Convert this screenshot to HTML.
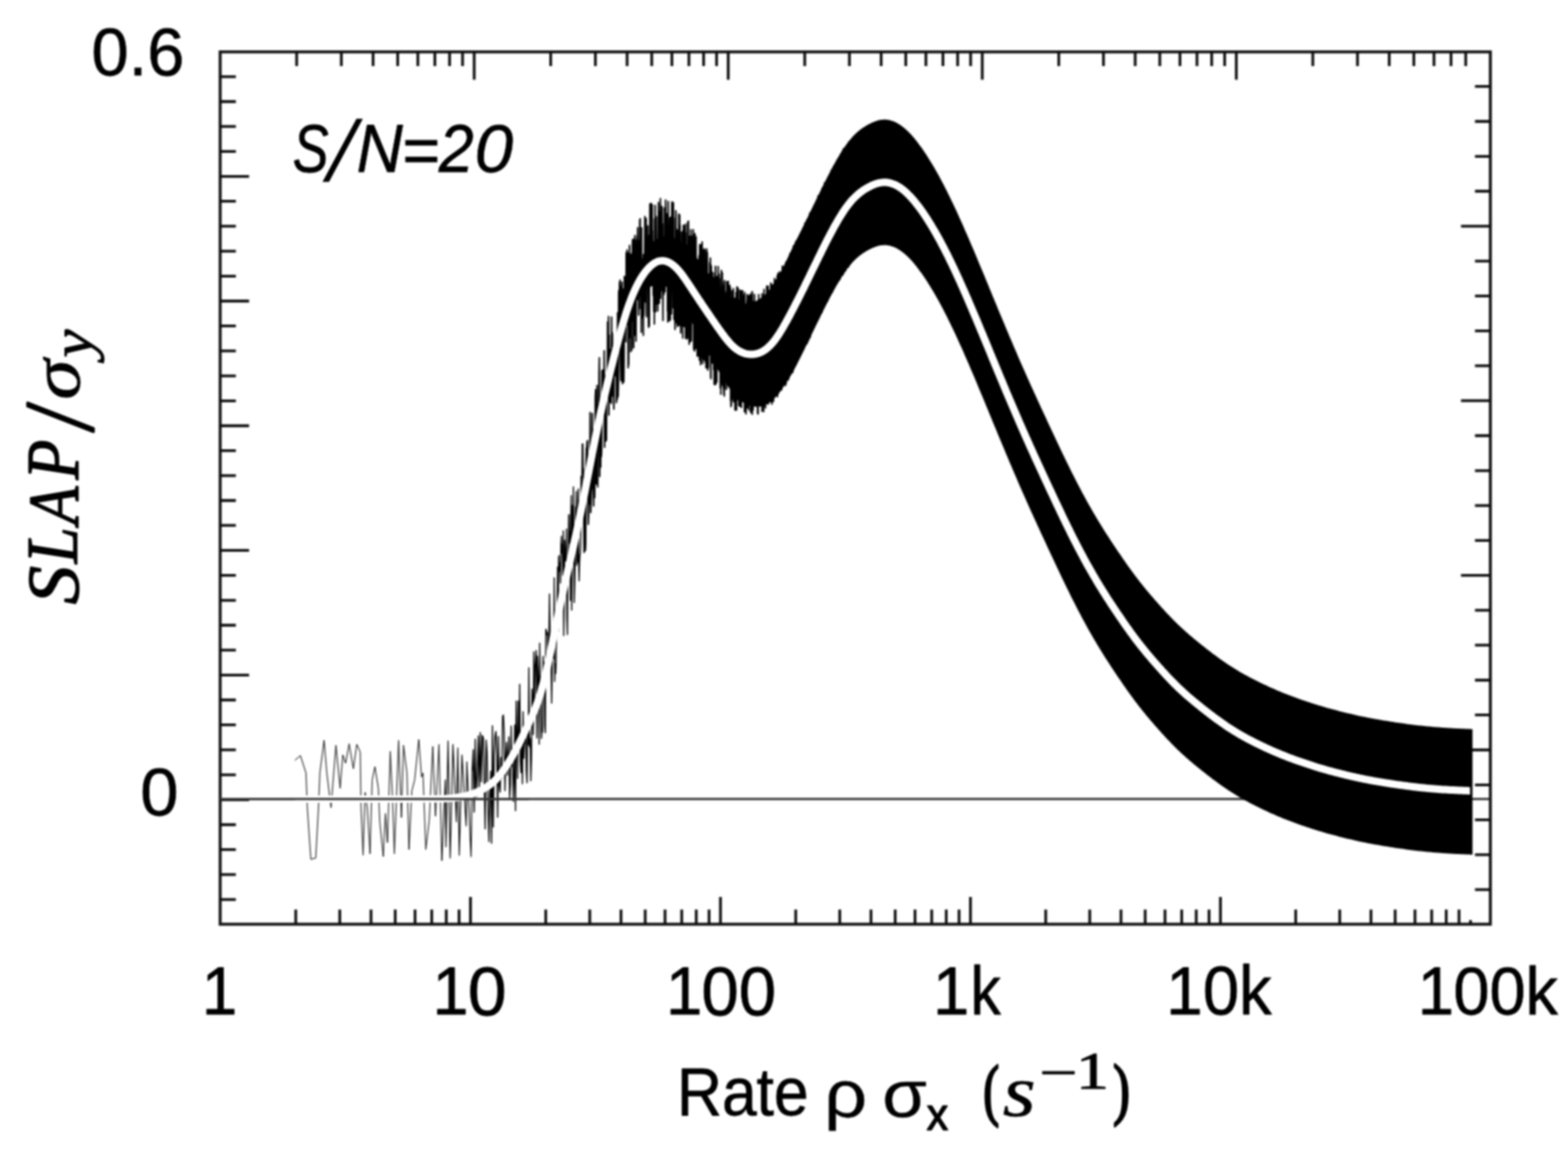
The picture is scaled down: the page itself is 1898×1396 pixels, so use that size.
<!DOCTYPE html>
<html lang="en"><head><meta charset="utf-8"><title>SLAP vs Rate, S/N=20</title>
<style>html,body{margin:0;padding:0;background:#fff;}body{width:1898px;height:1396px;overflow:hidden;}svg{display:block;}text{fill:#000;}</style>
</head><body>
<svg width="1898" height="1396" viewBox="0 0 1898 1396">
<defs><filter id="soft" x="-2%" y="-2%" width="104%" height="104%" color-interpolation-filters="sRGB"><feGaussianBlur stdDeviation="1.10"/></filter><filter id="soft2" x="-2%" y="-10%" width="104%" height="120%" color-interpolation-filters="sRGB"><feGaussianBlur stdDeviation="0.5"/></filter></defs>
<rect x="0" y="0" width="1898" height="1396" fill="#fff"/>
<g filter="url(#soft)">
<line x1="266.5" y1="967.4" x2="1804.0" y2="967.4" stroke="#3a3a3a" stroke-width="2.6"/>
<rect x="266.5" y="62.8" width="1537.5" height="1056.2" fill="none" stroke="#141414" stroke-width="3.6"/>
<path d="M266.5,92.8 L285.5,92.8 M266.5,123.0 L285.5,123.0 M266.5,153.2 L285.5,153.2 M266.5,183.4 L285.5,183.4 M266.5,213.6 L301.5,213.6 M266.5,243.7 L285.5,243.7 M266.5,273.9 L285.5,273.9 M266.5,304.1 L285.5,304.1 M266.5,334.3 L285.5,334.3 M266.5,364.5 L301.5,364.5 M266.5,394.7 L285.5,394.7 M266.5,424.9 L285.5,424.9 M266.5,455.1 L285.5,455.1 M266.5,485.3 L285.5,485.3 M266.5,515.5 L301.5,515.5 M266.5,545.6 L285.5,545.6 M266.5,575.8 L285.5,575.8 M266.5,606.0 L285.5,606.0 M266.5,636.2 L285.5,636.2 M266.5,666.4 L301.5,666.4 M266.5,696.6 L285.5,696.6 M266.5,726.8 L285.5,726.8 M266.5,757.0 L285.5,757.0 M266.5,787.2 L285.5,787.2 M266.5,817.4 L301.5,817.4 M266.5,847.5 L285.5,847.5 M266.5,877.7 L285.5,877.7 M266.5,907.9 L285.5,907.9 M266.5,938.1 L285.5,938.1 M266.5,968.3 L301.5,968.3 M266.5,998.5 L285.5,998.5 M266.5,1028.7 L285.5,1028.7 M266.5,1058.9 L285.5,1058.9 M266.5,1089.1 L285.5,1089.1 M1785.4,104.7 L1804.0,104.7 M1785.4,147.0 L1804.0,147.0 M1785.4,189.3 L1804.0,189.3 M1785.4,231.5 L1804.0,231.5 M1768.5,273.8 L1804.0,273.8 M1785.4,316.1 L1804.0,316.1 M1785.4,358.4 L1804.0,358.4 M1785.4,400.7 L1804.0,400.7 M1785.4,442.9 L1804.0,442.9 M1768.5,485.2 L1804.0,485.2 M1785.4,527.5 L1804.0,527.5 M1785.4,569.8 L1804.0,569.8 M1785.4,612.1 L1804.0,612.1 M1785.4,654.3 L1804.0,654.3 M1768.5,696.6 L1804.0,696.6 M1785.4,738.9 L1804.0,738.9 M1785.4,781.2 L1804.0,781.2 M1785.4,823.5 L1804.0,823.5 M1785.4,865.7 L1804.0,865.7 M1768.5,908.0 L1804.0,908.0 M1785.4,950.3 L1804.0,950.3 M1785.4,992.6 L1804.0,992.6 M1785.4,1034.9 L1804.0,1034.9 M1785.4,1077.1 L1804.0,1077.1 M359.1,62.8 L359.1,80.0 M413.2,62.8 L413.2,80.0 M451.6,62.8 L451.6,80.0 M481.4,62.8 L481.4,80.0 M505.8,62.8 L505.8,80.0 M526.4,62.8 L526.4,80.0 M544.2,62.8 L544.2,80.0 M559.9,62.8 L559.9,80.0 M574.0,62.8 L574.0,96.6 M666.6,62.8 L666.6,80.0 M720.7,62.8 L720.7,80.0 M759.1,62.8 L759.1,80.0 M788.9,62.8 L788.9,80.0 M813.3,62.8 L813.3,80.0 M833.9,62.8 L833.9,80.0 M851.7,62.8 L851.7,80.0 M867.4,62.8 L867.4,80.0 M881.5,62.8 L881.5,96.6 M974.1,62.8 L974.1,80.0 M1028.2,62.8 L1028.2,80.0 M1066.6,62.8 L1066.6,80.0 M1096.4,62.8 L1096.4,80.0 M1120.8,62.8 L1120.8,80.0 M1141.4,62.8 L1141.4,80.0 M1159.2,62.8 L1159.2,80.0 M1174.9,62.8 L1174.9,80.0 M1189.0,62.8 L1189.0,96.6 M1281.6,62.8 L1281.6,80.0 M1335.7,62.8 L1335.7,80.0 M1374.1,62.8 L1374.1,80.0 M1403.9,62.8 L1403.9,80.0 M1428.3,62.8 L1428.3,80.0 M1448.9,62.8 L1448.9,80.0 M1466.7,62.8 L1466.7,80.0 M1482.4,62.8 L1482.4,80.0 M1496.5,62.8 L1496.5,96.6 M1589.1,62.8 L1589.1,80.0 M1643.2,62.8 L1643.2,80.0 M1681.6,62.8 L1681.6,80.0 M1711.4,62.8 L1711.4,80.0 M1735.8,62.8 L1735.8,80.0 M1756.4,62.8 L1756.4,80.0 M1774.2,62.8 L1774.2,80.0 M358.0,1101.2 L358.0,1119.0 M411.3,1101.2 L411.3,1119.0 M449.1,1101.2 L449.1,1119.0 M478.4,1101.2 L478.4,1119.0 M502.4,1101.2 L502.4,1119.0 M522.6,1101.2 L522.6,1119.0 M540.2,1101.2 L540.2,1119.0 M555.7,1101.2 L555.7,1119.0 M569.5,1085.9 L569.5,1119.0 M660.6,1101.2 L660.6,1119.0 M713.9,1101.2 L713.9,1119.0 M751.7,1101.2 L751.7,1119.0 M781.0,1101.2 L781.0,1119.0 M805.0,1101.2 L805.0,1119.0 M825.2,1101.2 L825.2,1119.0 M842.8,1101.2 L842.8,1119.0 M858.3,1101.2 L858.3,1119.0 M872.1,1085.9 L872.1,1119.0 M963.2,1101.2 L963.2,1119.0 M1016.5,1101.2 L1016.5,1119.0 M1054.3,1101.2 L1054.3,1119.0 M1083.6,1101.2 L1083.6,1119.0 M1107.6,1101.2 L1107.6,1119.0 M1127.8,1101.2 L1127.8,1119.0 M1145.4,1101.2 L1145.4,1119.0 M1160.9,1101.2 L1160.9,1119.0 M1174.7,1085.9 L1174.7,1119.0 M1265.8,1101.2 L1265.8,1119.0 M1319.1,1101.2 L1319.1,1119.0 M1356.9,1101.2 L1356.9,1119.0 M1386.2,1101.2 L1386.2,1119.0 M1410.2,1101.2 L1410.2,1119.0 M1430.4,1101.2 L1430.4,1119.0 M1448.0,1101.2 L1448.0,1119.0 M1463.5,1101.2 L1463.5,1119.0 M1477.3,1085.9 L1477.3,1119.0 M1568.4,1101.2 L1568.4,1119.0 M1621.7,1101.2 L1621.7,1119.0 M1659.5,1101.2 L1659.5,1119.0 M1688.8,1101.2 L1688.8,1119.0 M1712.8,1101.2 L1712.8,1119.0 M1733.0,1101.2 L1733.0,1119.0 M1750.6,1101.2 L1750.6,1119.0 M1766.1,1101.2 L1766.1,1119.0 M1780.0,1114.0 L1780.0,1119.0" fill="none" stroke="#0c0c0c" stroke-width="3.3"/>
<g fill="none" stroke="#000" stroke-linejoin="round" filter="url(#soft2)">
<path d="M356.9,920.7 L363.6,914.8 L370.4,935.9 L372.0,978.0 L376.3,1040.4 L382.2,1038.8 L385.5,978.0 L387.2,935.9 L392.3,896.3 L395.6,935.9 L400.7,978.0 L406.6,902.2 L411.7,954.4 L415.0,914.0 L418.4,924.1 L422.6,900.5 L427.7,930.8 L431.9,901.3 L436.1,910.6 L437.0,978.0 L439.5,1035.4 L442.0,959.5 L444.6,978.0 L447.9,1033.7 L450.5,944.3 L453.8,928.3 L458.0,954.4 L459.7,994.9 L463.9,1037.1 L466.5,984.8 L469.0,1020.2 L472.4,909.7 L474.9,961.2 L477.4,1033.7 L482.5,896.3 L485.9,989.8 L488.4,902.2 L492.6,935.9 L495.1,1028.6 L498.5,957.8 L501.9,944.3 L506.9,895.4 L510.3,940.9 L512.0,935.9 L515.4,1028.6 L519.6,993.2 L523.8,903.8 L527.2,988.2 L531.4,901.3 L534.8,1042.1" stroke-width="1.00"/>
<path d="M534.8,1042.1 L539.0,944.3 L539.8,1025.3 L542.4,897.1 L544.9,1038.8 L548.3,901.3 L552.5,994.9 L554.2,905.5 L555.9,1035.4 L559.2,914.0 L564.3,1000.0 L565.1,922.4 L570.2,1037.1 L571.5,934.5" stroke-width="1.20"/>
<path d="M571.5,934.5 L572.8,907.8 L574.0,983.3 L575.3,894.9 L576.5,964.8 L577.8,938.4 L579.0,891.1 L580.2,958.9 L581.4,886.9 L582.6,946.5 L583.8,890.5 L585.0,893.1 L586.1,943.1 L587.3,1003.6 L588.4,896.1 L589.5,910.4 L590.7,971.1 L591.8,1019.1 L592.9,961.9 L594.0,933.7 L595.0,1020.9 L596.1,878.7 L597.2,1001.2 L598.2,913.7 L599.3,890.6 L600.3,885.6 L601.4,913.5 L602.4,989.5 L603.4,891.7 L604.4,951.5 L605.4,959.0 L606.4,917.2 L607.4,942.5 L608.4,867.5 L609.3,865.7 L610.3,886.6 L611.3,957.3 L612.2,917.4 L613.2,898.7 L614.1,938.5 L615.0,916.9 L615.9,892.1 L616.9,965.8 L617.8,949.8 L618.7,879.1 L619.6,927.7 L620.5,918.7 L621.4,970.3 L622.2,946.5 L623.1,877.8 L624.0,981.4 L624.8,848.7 L625.7,892.7 L626.5,942.6 L627.4,849.0 L628.2,898.5 L629.1,828.5 L629.9,922.4 L630.7,935.4 L631.5,904.6 L632.4,948.9 L633.2,861.8 L634.0,918.2 L634.8,901.1 L635.6,897.3 L636.4,876.8 L637.1,933.5 L637.9,947.7 L638.7,874.6 L639.5,901.8 L640.2,808.4 L641.0,904.2 L641.8,894.3 L642.5,945.2 L643.3,917.6 L644.0,834.2 L644.8,847.9 L645.5,889.2 L646.2,789.3 L646.9,854.3 L647.7,807.9 L648.4,798.3 L649.1,787.6 L649.8,893.5 L650.5,794.4 L651.2,810.4 L651.9,830.2 L652.6,901.1 L653.3,778.8 L654.0,832.6 L654.7,845.6 L655.4,894.0 L656.1,881.9 L656.7,886.3 L657.4,794.7 L658.1,813.0 L658.8,801.7 L659.4,878.9 L660.1,887.3 L660.7,761.9 L661.4,762.9 L662.0,768.6 L662.7,765.9 L663.3,801.2 L664.0,814.1 L664.6,761.5 L665.2,719.2 L665.9,779.2 L666.5,768.7 L667.1,795.6 L667.7,851.3 L668.4,808.4 L669.0,778.8 L669.6,791.3 L670.2,797.2 L670.8,699.6 L671.4,825.1 L672.0,804.0 L672.6,815.4 L673.2,800.8 L673.8,736.2 L674.4,734.3 L675.0,686.6 L675.6,764.4 L676.2,674.7 L676.7,672.7 L677.3,691.5 L677.9,681.7 L678.5,706.1 L679.0,659.7 L679.6,649.2 L680.2,669.5 L680.7,659.4 L681.3,696.7 L681.8,642.8 L682.4,769.4 L683.0,727.3 L683.5,654.1 L684.1,667.5 L684.6,679.5 L685.1,679.7 L685.7,640.6 L686.2,748.6 L686.8,768.2 L687.3,685.7 L687.8,686.1 L688.4,623.3 L688.9,623.5 L689.4,657.7 L690.0,643.6 L690.5,727.1 L691.0,623.4 L691.5,600.1 L692.0,738.8 L692.5,672.3 L693.1,612.0 L693.6,670.1 L694.1,589.4 L694.6,663.3 L695.1,729.5 L695.6,709.7 L696.1,682.1 L696.6,613.7 L697.1,627.5 L697.6,594.9 L698.1,684.5 L698.6,645.9 L699.1,681.1 L699.5,610.5 L700.0,592.0 L700.5,679.2 L701.0,703.2 L701.5,680.8 L702.0,671.4 L702.4,671.0 L702.9,656.7 L703.4,576.4 L703.9,618.3 L704.3,591.3 L704.8,539.4 L705.3,536.9" stroke-width="1.45"/>
<path d="M705.3,536.9 L705.7,572.8 L706.2,567.4 L706.7,630.9 L707.1,668.7 L707.6,589.0 L708.0,661.1 L708.5,666.5 L708.9,659.2 L709.4,567.1 L709.8,542.9 L710.3,541.6 L710.7,534.7 L711.2,533.6 L711.6,595.1 L712.1,634.8 L712.5,623.4 L713.0,566.3 L713.4,590.4 L713.8,610.4 L714.3,499.5 L714.7,584.8 L715.1,620.5 L715.6,598.9 L716.0,591.8 L716.4,548.3 L716.9,500.6 L717.3,591.2 L717.7,519.7 L718.1,588.7 L718.6,612.5 L719.0,522.9 L719.4,521.7 L719.8,602.5 L720.2,566.7 L720.6,480.3 L721.1,471.7 L721.5,473.4 L721.9,585.9 L722.3,569.0 L722.7,466.6 L723.1,568.1 L723.5,589.5 L723.9,538.5 L724.3,489.9 L724.7,518.2 L725.1,452.8 L725.5,433.2 L725.9,576.8 L726.3,526.1 L726.7,505.6 L727.1,565.6 L727.5,487.9 L727.9,552.7 L728.3,544.0 L728.7,448.7 L729.1,453.2 L729.5,457.7 L729.9,448.0 L730.2,498.9 L730.6,447.5 L731.0,470.1 L731.4,424.7 L731.8,541.4 L732.2,455.2 L732.5,469.4 L732.9,486.9 L733.3,534.0 L733.7,458.9 L734.0,532.9 L734.4,468.1 L734.8,471.1 L735.2,468.3 L735.5,390.0 L735.9,452.5 L736.3,411.9 L736.6,383.1 L737.0,502.5 L737.4,405.7 L737.7,450.0 L738.1,486.8 L738.5,459.6 L738.8,423.1 L739.2,450.9 L739.5,455.1 L739.9,488.4 L740.3,383.9 L740.6,451.5 L741.0,402.7 L741.3,405.6 L741.7,479.4 L742.0,437.8 L742.4,444.6 L742.7,473.4 L743.1,495.2 L743.4,422.5 L743.8,446.8 L744.1,429.2 L744.5,428.8 L744.8,454.9 L745.2,417.1 L745.5,428.0 L745.9,418.3 L746.2,487.4 L746.5,449.3 L746.9,475.0 L747.2,483.6 L747.6,378.6 L747.9,422.9 L748.2,480.0 L748.6,463.0 L748.9,354.9 L749.2,351.4 L749.6,398.8 L749.9,341.4 L750.2,365.8 L750.6,339.1 L750.9,428.6 L751.2,444.8 L751.6,460.8 L751.9,346.7 L752.2,431.0 L752.5,421.3 L752.9,341.6 L753.2,452.9 L753.5,464.6 L753.8,349.8 L754.2,460.1 L754.5,374.8 L754.8,387.3 L755.1,462.6 L755.4,437.6 L755.8,334.6 L756.1,374.6 L756.4,386.3 L756.7,358.5 L757.0,335.7 L757.3,353.3 L757.6,413.7 L758.0,305.9 L758.3,386.2 L758.6,368.0 L758.9,302.8 L759.2,349.5 L759.5,393.0 L759.8,375.2 L760.1,306.2 L760.4,445.2 L760.7,414.4 L761.0,441.4 L761.3,308.8 L761.6,332.4 L762.0,297.2 L762.3,408.8 L762.6,330.6 L762.9,308.4 L763.2,352.1 L763.5,425.7 L763.8,410.8 L764.1,324.9 L764.4,307.5 L764.7,423.8 L764.9,370.0 L765.2,389.0 L765.5,295.5 L765.8,289.9 L766.1,385.0 L766.4,344.4 L766.7,290.1 L767.0,421.0 L767.3,374.1 L767.6,398.9 L767.9,289.1 L768.2,405.9 L768.5,285.2 L768.7,405.6 L769.0,342.8 L769.3,324.8 L769.6,356.7 L769.9,412.9 L770.2,312.2 L770.5,290.5 L770.7,350.4 L771.0,306.0 L771.3,285.8 L771.6,293.2 L771.9,275.7 L772.1,298.2 L772.4,314.4 L772.7,312.8 L773.0,381.4 L773.3,309.5 L773.5,341.0 L773.8,291.5 L774.1,316.7 L774.4,266.2 L774.6,301.1 L774.9,264.9 L775.2,373.5 L775.5,345.4 L775.7,289.9 L776.0,332.9 L776.3,402.3 L776.6,276.0 L776.8,383.9 L777.1,324.7 L777.4,333.8 L777.6,385.0 L777.9,317.5 L778.2,334.3 L778.4,361.5 L778.7,405.9 L779.0,308.3 L779.2,382.3 L779.5,362.8 L779.8,351.7 L780.0,316.2 L780.3,307.1 L780.6,262.2 L780.8,273.3 L781.1,264.0 L781.3,365.5 L781.6,291.4 L781.9,277.1 L782.1,264.8 L782.4,379.5 L782.7,383.6 L782.9,352.9 L783.2,293.5 L783.4,287.2 L783.7,294.6 L783.9,319.6 L784.2,273.5 L784.4,317.0 L784.7,289.0 L785.0,394.9 L785.2,396.2 L785.5,331.3 L785.7,285.0 L786.0,394.4 L786.2,294.4 L786.5,301.3 L786.7,247.0 L787.0,304.7 L787.2,318.6 L787.5,322.6 L787.7,276.5 L788.0,322.5 L788.2,246.3 L788.5,285.5 L788.7,258.8 L789.0,305.6 L789.2,251.0 L789.5,247.9 L789.7,290.6 L789.9,279.5 L790.2,333.0 L790.4,324.2 L790.7,357.7 L790.9,343.4 L791.2,352.1 L791.4,376.7 L791.7,302.2 L791.9,292.4 L792.1,392.3 L792.4,265.2 L792.6,352.4 L792.9,340.0 L793.1,248.7 L793.3,368.9 L793.6,377.4 L793.8,337.1 L794.0,353.1 L794.3,364.9 L794.5,262.5 L794.8,320.9 L795.0,317.8 L795.2,368.0 L795.5,363.3 L795.7,366.5 L795.9,329.5 L796.2,376.4 L796.4,344.4 L796.6,345.9 L796.9,275.4 L797.1,245.1 L797.3,260.5 L797.6,295.1 L797.8,256.1 L798.0,367.2 L798.2,325.0 L798.5,335.5 L798.7,335.2 L798.9,343.4 L799.2,314.3 L799.4,240.4 L799.6,361.1 L799.8,353.5 L800.1,316.2 L800.3,321.1 L800.5,340.0 L800.8,249.8 L801.0,351.7 L801.2,278.0 L801.4,251.0 L801.7,280.1 L801.9,350.6 L802.1,270.9 L802.3,352.2 L802.5,388.0 L802.8,314.8 L803.0,297.9 L803.2,312.6 L803.4,343.7 L803.7,356.4 L803.9,333.6 L804.1,337.6 L804.3,251.7 L804.5,262.4 L804.8,278.6 L805.0,353.0 L805.2,286.4 L805.4,326.4 L805.6,242.1 L805.8,249.5 L806.1,281.2 L806.3,342.5 L806.5,345.7 L806.7,343.2 L806.9,284.8 L807.1,319.2 L807.3,311.4 L807.6,311.7 L807.8,258.9 L808.0,376.8 L808.2,271.3 L808.4,389.8 L808.6,383.5 L808.8,244.0 L809.1,311.2 L809.3,366.2 L809.5,388.8 L809.7,310.0 L809.9,282.7 L810.1,273.8 L810.3,385.8 L810.5,274.2 L810.7,330.7 L810.9,264.0 L811.2,322.2 L811.4,387.5 L811.6,262.9 L811.8,367.6 L812.0,320.4 L812.2,378.0 L812.4,350.2 L812.6,278.6 L812.8,380.0 L813.0,317.6 L813.2,247.6 L813.4,244.5 L813.6,318.9 L813.8,312.8 L814.0,290.3 L814.2,266.0 L814.4,297.0 L814.6,293.0 L814.9,372.8 L815.1,245.5 L815.3,359.5 L815.5,373.1 L815.7,264.0 L815.9,386.7 L816.1,354.5 L816.3,383.3 L816.5,290.5 L816.7,303.2 L816.9,306.5 L817.1,398.8 L817.3,336.7 L817.5,302.2 L817.7,312.6 L817.9,289.5 L818.1,255.2 L818.2,263.5 L818.4,375.1 L818.6,291.9 L818.8,390.9 L819.0,286.8 L819.2,289.5 L819.4,326.9 L819.6,278.3 L819.8,306.4 L820.0,395.2 L820.2,384.5 L820.4,373.7 L820.6,346.4 L820.8,389.6 L821.0,393.9 L821.2,334.6 L821.4,360.8 L821.6,259.1 L821.8,363.1 L821.9,320.6 L822.1,366.7 L822.3,350.5 L822.5,296.2 L822.7,260.4 L822.9,394.0 L823.1,272.8 L823.3,325.4 L823.5,306.1 L823.7,299.4 L823.9,366.7 L824.0,403.0 L824.2,294.4 L824.4,354.8 L824.6,301.0 L824.8,340.3 L825.0,315.7 L825.2,281.5 L825.4,280.8 L825.5,288.1 L825.7,394.5 L825.9,332.6 L826.1,290.7 L826.3,395.3 L826.5,409.2 L826.7,326.4 L826.8,279.5 L827.0,287.8 L827.2,272.6 L827.4,311.0 L827.6,273.1 L827.8,295.9 L827.9,299.1 L828.1,346.6 L828.3,395.2 L828.5,374.5 L828.7,323.6 L828.9,324.0 L829.0,341.0 L829.2,318.9 L829.4,313.3 L829.6,271.6 L829.8,304.6 L830.0,409.7 L830.1,282.0 L830.3,339.7 L830.5,359.1 L830.7,394.9 L830.8,296.8 L831.0,305.4 L831.2,302.3 L831.4,325.5 L831.6,332.8 L831.7,410.3 L831.9,394.5 L832.1,398.5 L832.3,269.4 L832.5,271.2 L832.6,374.5 L832.8,403.0 L833.0,339.1 L833.2,356.7 L833.3,267.7 L833.5,327.4 L833.7,409.1 L833.9,394.0 L834.0,398.8 L834.2,416.8 L834.4,307.0 L834.6,286.1 L834.7,293.3 L834.9,349.5 L835.1,374.0 L835.3,413.7 L835.4,380.5 L835.6,369.5 L835.8,387.6 L836.0,341.1 L836.1,355.7 L836.3,278.2 L836.5,391.3 L836.6,308.0 L836.8,412.8 L837.0,371.3 L837.2,319.6 L837.3,293.2 L837.5,312.3 L837.7,371.0 L837.8,380.7 L838.0,291.8 L838.2,285.7 L838.3,355.0 L838.5,364.1 L838.7,334.8 L838.9,310.0 L839.0,367.7 L839.2,278.2 L839.4,322.7 L839.5,347.1 L839.7,423.1 L839.9,375.6 L840.0,412.2 L840.2,350.3 L840.4,314.0 L840.5,316.2 L840.7,424.9 L840.9,386.2 L841.0,326.1 L841.2,282.9 L841.4,355.6 L841.5,382.6 L841.7,344.2 L841.9,319.7 L842.0,382.3 L842.2,421.7 L842.3,315.8 L842.5,286.8 L842.7,333.2 L842.8,346.0 L843.0,386.1 L843.2,312.7 L843.3,404.0 L843.5,395.4 L843.7,360.1 L843.8,314.8 L844.0,431.2 L844.1,331.4 L844.3,408.9 L844.5,319.6 L844.6,318.4 L844.8,400.6 L844.9,330.1 L845.1,430.2 L845.3,361.1 L845.4,314.5 L845.6,320.2 L845.8,349.9 L845.9,387.8 L846.1,431.2 L846.2,309.4 L846.4,347.2 L846.6,320.0 L846.7,436.0 L846.9,309.7 L847.0,296.3 L847.2,297.8 L847.3,348.6 L847.5,425.6 L847.7,423.6 L847.8,400.9 L848.0,441.4 L848.1,431.6 L848.3,340.3 L848.4,318.7 L848.6,433.0 L848.8,404.4 L848.9,296.1 L849.1,392.4 L849.2,349.2 L849.4,348.7 L849.5,342.6 L849.7,318.1 L849.9,293.0 L850.0,335.4 L850.2,346.5 L850.3,438.5 L850.5,312.3 L850.6,440.3 L850.8,325.5 L850.9,348.4 L851.1,419.3 L851.2,419.6 L851.4,360.6 L851.5,302.6 L851.7,367.3 L851.9,352.2 L852.0,435.6 L852.2,325.4 L852.3,351.6 L852.5,432.8 L852.6,301.3 L852.8,359.4 L852.9,420.6 L853.1,413.9 L853.2,303.8 L853.4,303.1 L853.5,307.6 L853.7,438.1 L853.8,337.6 L854.0,412.3 L854.1,435.5 L854.3,350.7 L854.4,340.8 L854.6,445.2 L854.7,393.6 L854.9,339.9 L855.0,409.2 L855.2,348.6 L855.3,342.6 L855.5,301.5 L855.6,416.0 L855.8,440.7 L855.9,397.9 L856.1,445.2 L856.2,305.7 L856.4,337.8 L856.5,374.7 L856.7,448.1 L856.8,447.9 L856.9,361.8 L857.1,341.5 L857.2,368.9 L857.4,378.7 L857.5,445.0 L857.7,332.0 L857.8,426.4 L858.0,416.8 L858.1,429.9 L858.3,422.5 L858.4,397.5 L858.6,355.3 L858.7,354.2 L858.8,360.9 L859.0,425.0 L859.1,318.3 L859.3,336.5 L859.4,421.2 L859.6,344.5 L859.7,317.0 L859.9,312.5 L860.0,391.6 L860.1,357.3 L860.3,457.0 L860.4,442.5 L860.6,458.5 L860.7,348.9 L860.9,321.6 L861.0,323.7 L861.1,385.0 L861.3,417.3 L861.4,377.6 L861.6,345.4 L861.7,373.4 L861.9,404.6 L862.0,412.9 L862.1,424.4 L862.3,439.6 L862.4,412.1 L862.6,329.7 L862.7,439.3 L862.8,356.4 L863.0,398.1 L863.1,368.8 L863.3,424.5 L863.4,342.8 L863.5,350.3 L863.7,350.2 L863.8,336.4 L864.0,447.7 L864.1,401.4 L864.2,363.3 L864.4,374.1 L864.5,465.0 L864.7,391.4 L864.8,349.7 L864.9,437.6 L865.1,414.2 L865.2,465.8 L865.3,330.9 L865.5,387.7 L865.6,440.2 L865.8,443.7 L865.9,455.1 L866.0,322.5 L866.2,361.2 L866.3,334.8 L866.4,345.7 L866.6,465.0 L866.7,406.0 L866.9,458.9 L867.0,374.3 L867.1,449.6 L867.3,386.4 L867.4,357.8 L867.5,436.7 L867.7,462.4 L867.8,335.0 L867.9,409.7 L868.1,413.5 L868.2,352.5 L868.3,375.7 L868.5,341.3 L868.6,351.0 L868.8,359.0 L868.9,411.5 L869.0,419.7 L869.2,351.7 L869.3,322.7 L869.4,370.9 L869.6,424.5 L869.7,349.7 L869.8,369.2 L870.0,352.9 L870.1,443.0 L870.2,405.6 L870.4,332.1 L870.5,338.1 L870.6,383.0 L870.8,406.7 L870.9,420.4 L871.0,337.3 L871.2,348.5 L871.3,429.5 L871.4,386.3 L871.5,367.3 L871.7,371.1 L871.8,469.5 L871.9,372.2 L872.1,411.1 L872.2,379.4 L872.3,388.6 L872.5,456.9 L872.6,477.2 L872.7,381.2 L872.9,356.0 L873.0,436.9 L873.1,357.4 L873.2,327.5 L873.4,463.8 L873.5,391.3 L873.6,451.8 L873.8,389.0 L873.9,461.7 L874.0,397.7 L874.2,352.5 L874.3,330.3 L874.4,412.0 L874.5,425.7 L874.7,466.8 L874.8,342.2 L874.9,423.4 L875.1,385.4 L875.2,405.9 L875.3,351.6 L875.4,372.6 L875.6,409.0 L875.7,470.6 L875.8,346.6 L875.9,404.8 L876.1,452.7 L876.2,477.5 L876.3,360.7 L876.5,350.2 L876.6,474.4 L876.7,479.5 L876.8,404.8 L877.0,339.7 L877.1,472.5 L877.2,390.9 L877.3,469.5 L877.5,426.5 L877.6,457.7 L877.7,356.9 L877.8,452.2 L878.0,366.6 L878.1,394.5 L878.2,461.9 L878.3,459.4 L878.5,361.3 L878.6,366.8 L878.7,394.6 L878.8,412.7 L879.0,392.5 L879.1,353.0 L879.2,372.0 L879.3,444.8 L879.5,471.2 L879.6,341.2 L879.7,420.6 L879.8,450.4 L880.0,341.2 L880.1,462.9 L880.2,353.6 L880.3,427.0 L880.4,419.6 L880.6,431.4 L880.7,382.8 L880.8,400.3 L880.9,425.1 L881.1,401.4 L881.2,437.0 L881.3,404.9 L881.4,403.8 L881.5,340.8 L881.7,431.5 L881.8,412.0 L881.9,373.5 L882.0,453.9 L882.2,456.5 L882.3,407.8 L882.4,365.6 L882.5,410.3 L882.6,354.8 L882.8,358.2 L882.9,404.3 L883.0,352.9 L883.1,406.3 L883.2,416.8 L883.4,345.5 L883.5,436.2 L883.6,352.1 L883.7,451.2 L883.8,458.1 L884.0,417.8 L884.1,348.4 L884.2,416.9 L884.3,397.8 L884.4,485.0 L884.6,361.3 L884.7,471.0 L884.8,492.3 L884.9,452.3 L885.0,465.0 L885.2,370.7 L885.3,490.6 L885.4,416.3 L885.5,487.0 L885.6,481.0 L885.7,367.0 L885.9,461.8 L886.0,483.5 L886.1,352.2 L886.2,395.7 L886.3,457.4 L886.5,366.7 L886.6,478.9 L886.7,384.6 L886.8,466.9 L886.9,364.8 L887.0,419.5 L887.2,483.1 L887.3,375.0 L887.4,383.4 L887.5,420.5 L887.6,392.2 L887.7,349.4 L887.9,371.6 L888.0,368.5 L888.1,486.4 L888.2,447.5 L888.3,480.4 L888.4,370.0 L888.6,463.8 L888.7,362.1 L888.8,425.4 L888.9,441.5 L889.0,399.6 L889.1,477.7 L889.2,429.5 L889.4,433.3 L889.5,479.4 L889.6,361.3 L889.7,496.4 L889.8,441.3 L889.9,405.6 L890.0,467.0 L890.2,386.1 L890.3,496.5 L890.4,433.8 L890.5,400.8 L890.6,462.4 L890.7,413.5 L890.8,373.2 L891.0,459.5 L891.1,353.9 L891.2,471.2 L891.3,385.2 L891.4,443.9 L891.5,496.4 L891.6,436.0 L891.8,447.9 L891.9,394.6 L892.0,347.4 L892.1,352.4 L892.2,370.0 L892.3,441.1 L892.4,413.2 L892.5,425.5 L892.7,483.8 L892.8,367.8 L892.9,382.3 L893.0,447.1 L893.1,351.3 L893.2,348.4 L893.3,402.0 L893.4,364.3 L893.5,402.5 L893.7,382.4 L893.8,437.1 L893.9,438.0 L894.0,379.5 L894.1,443.4 L894.2,420.8 L894.3,369.2 L894.4,491.1 L894.5,385.9 L894.7,371.6 L894.8,363.5 L894.9,446.0 L895.0,481.5 L895.1,468.0 L895.2,410.3 L895.3,389.4 L895.4,351.1 L895.5,447.4 L895.6,434.9 L895.8,402.8 L895.9,447.7 L896.0,417.1 L896.1,492.1 L896.2,461.2 L896.3,387.6 L896.4,487.2 L896.5,356.6 L896.6,430.7 L896.7,411.7 L896.8,386.2 L896.9,359.0 L897.1,468.6 L897.2,352.1 L897.3,434.0 L897.4,493.3 L897.5,372.0 L897.6,380.7 L897.7,442.9 L897.8,427.6 L897.9,448.1 L898.0,474.2 L898.1,377.2 L898.2,397.7 L898.4,396.4 L898.5,358.2 L898.6,486.0 L898.7,469.9 L898.8,459.7 L898.9,351.9 L899.0,479.4 L899.1,464.3 L899.2,421.8 L899.3,463.9 L899.4,420.0 L899.5,385.6 L899.6,367.3 L899.7,386.6 L899.8,357.2 L900.0,402.4 L900.1,465.4 L900.2,457.1 L900.3,480.0 L900.4,459.7 L900.5,392.0 L900.6,435.8 L900.7,417.9 L900.8,471.5 L900.9,431.2 L901.0,392.0 L901.1,449.3 L901.2,498.5 L901.3,384.8 L901.4,485.6 L901.5,354.2 L901.6,391.5 L901.7,387.8 L901.8,465.0 L901.9,495.6 L902.1,465.4 L902.2,401.7 L902.3,485.9 L902.4,402.1 L902.5,388.5 L902.6,490.1 L902.7,448.1 L902.8,457.5 L902.9,453.4 L903.0,501.1 L903.1,423.7 L903.2,479.9 L903.3,458.4 L903.4,482.7 L903.5,418.8 L903.6,462.5 L903.7,439.1 L903.8,399.2 L903.9,384.7 L904.0,447.1 L904.1,364.3 L904.2,491.0 L904.3,374.5 L904.4,356.7 L904.5,368.8 L904.6,493.8 L904.7,405.0 L904.8,374.2 L904.9,357.0 L905.0,359.0 L905.1,458.0 L905.2,449.1 L905.4,458.7 L905.5,464.7 L905.6,362.7 L905.7,442.5 L905.8,408.0 L905.9,477.1 L906.0,477.4 L906.1,488.3 L906.2,362.8 L906.3,484.7 L906.4,491.8 L906.5,496.4 L906.6,369.1 L906.7,384.1 L906.8,369.9 L906.9,358.1 L907.0,481.8 L907.1,476.3 L907.2,449.3 L907.3,478.3 L907.4,448.9 L907.5,396.6 L907.6,368.1 L907.7,367.8 L907.8,468.1 L907.9,384.1 L908.0,401.5 L908.1,417.4 L908.2,356.2 L908.3,392.0 L908.4,395.9 L908.5,461.8 L908.6,408.9 L908.7,401.8 L908.8,499.5 L908.9,429.6 L909.0,482.4 L909.1,447.0 L909.2,357.7 L909.3,415.8 L909.4,419.4 L909.5,470.5 L909.6,405.7 L909.7,460.1 L909.8,434.8 L909.9,385.9 L909.9,484.1 L910.0,366.8 L910.1,477.6 L910.2,378.9 L910.3,353.2 L910.4,383.7 L910.5,468.9 L910.6,501.6 L910.7,353.7 L910.8,427.6 L910.9,427.7 L911.0,474.1 L911.1,381.0 L911.2,428.1 L911.3,405.7 L911.4,479.4 L911.5,392.6 L911.6,496.4 L911.7,396.1 L911.8,385.6 L911.9,459.2 L912.0,428.7 L912.1,369.6 L912.2,449.6 L912.3,365.2 L912.4,472.6 L912.5,458.8 L912.6,472.5 L912.7,448.3 L912.8,406.9 L912.9,413.8 L913.0,412.8 L913.1,488.1 L913.2,365.9 L913.2,487.8 L913.3,356.6 L913.4,384.1 L913.5,392.7 L913.6,489.7 L913.7,428.9 L913.8,410.3 L913.9,487.0 L914.0,388.2 L914.1,422.7 L914.2,433.4 L914.3,467.3 L914.4,467.0 L914.5,450.8 L914.6,405.5 L914.7,402.2 L914.8,376.1 L914.9,480.6 L915.0,453.1 L915.1,465.2 L915.1,378.2 L915.2,419.1 L915.3,470.0 L915.4,440.4 L915.5,371.5 L915.6,422.6 L915.7,486.8 L915.8,388.5 L915.9,381.4 L916.0,398.1 L916.1,459.1 L916.2,480.4 L916.3,375.7 L916.4,375.9 L916.5,389.8 L916.6,401.7 L916.7,431.4 L916.7,376.5 L916.8,401.9 L916.9,380.8 L917.0,500.2 L917.1,462.7 L917.2,367.4 L917.3,498.2 L917.4,367.3 L917.5,410.2 L917.6,501.3 L917.7,472.6 L917.8,463.2 L917.9,417.8 L918.0,381.5 L918.0,448.6 L918.1,367.9 L918.2,383.0 L918.3,410.6 L918.4,356.7 L918.5,412.1 L918.6,471.7 L918.7,456.8 L918.8,427.5 L918.9,447.5 L919.0,421.8 L919.1,372.9 L919.1,443.0 L919.2,412.7 L919.3,463.8 L919.4,489.2 L919.5,416.5 L919.6,438.3 L919.7,464.9 L919.8,415.0 L919.9,385.7 L920.0,460.7 L920.1,484.7 L920.2,468.5 L920.2,457.2 L920.3,480.4 L920.4,454.0 L920.5,448.2 L920.6,419.7 L920.7,398.2 L920.8,446.1 L920.9,365.4 L921.0,414.3 L921.1,469.4 L921.1,458.8 L921.2,446.1 L921.3,388.3 L921.4,414.7 L921.5,419.4 L921.6,444.7 L921.7,412.4 L921.8,452.8 L921.9,491.5 L922.0,377.9 L922.0,449.5 L922.1,468.2 L922.2,409.0 L922.3,424.3 L922.4,497.9 L922.5,355.6 L922.6,432.3 L922.7,374.1 L922.8,468.4 L922.9,492.5 L922.9,428.4 L923.0,364.8 L923.1,436.8 L923.2,431.6 L923.3,458.3 L923.4,427.1 L923.5,446.4 L923.6,475.2 L923.6,428.4 L923.7,411.4 L923.8,493.1 L923.9,380.9 L924.0,452.9 L924.1,408.5 L924.2,464.7 L924.3,367.4 L924.4,498.3 L924.4,402.7 L924.5,357.2 L924.6,390.2 L924.7,409.2 L924.8,350.4 L924.9,412.0 L925.0,412.2 L925.1,454.4 L925.1,401.7 L925.2,388.4 L925.3,382.2 L925.4,460.7 L925.5,490.8 L925.6,428.0 L925.7,381.1 L925.8,469.6 L925.8,407.3 L925.9,379.9 L926.0,367.3 L926.1,465.6 L926.2,470.5 L926.3,443.8 L926.4,418.7 L926.5,432.7 L926.5,381.6 L926.6,493.7 L926.7,400.8 L926.8,444.2 L926.9,471.4 L927.0,471.0 L927.1,418.0 L927.1,391.5 L927.2,430.1 L927.3,365.7 L927.4,473.3 L927.5,400.5 L927.6,475.8 L927.7,387.1 L927.7,403.5 L927.8,384.8 L927.9,411.0 L928.0,374.4 L928.1,346.5 L928.2,455.7 L928.3,388.7 L928.3,383.1 L928.4,391.7 L928.5,418.6 L928.6,410.8 L928.7,442.5 L928.8,445.7 L928.9,400.5 L928.9,486.5 L929.0,475.2 L929.1,353.9 L929.2,471.0 L929.3,482.8 L929.4,464.2 L929.4,366.3 L929.5,471.2 L929.6,441.0 L929.7,347.0 L929.8,346.4 L929.9,489.2 L930.0,444.2 L930.0,382.4 L930.1,359.8 L930.2,366.0 L930.3,379.7 L930.4,462.1 L930.5,396.7 L930.5,367.2 L930.6,481.3 L930.7,464.1 L930.8,369.2 L930.9,479.1 L931.0,436.0 L931.0,462.2 L931.1,445.0 L931.2,479.2 L931.3,463.0 L931.4,470.7 L931.5,373.1 L931.5,448.3 L931.6,423.6 L931.7,455.6 L931.8,409.4 L931.9,476.8 L932.0,427.0 L932.0,382.7 L932.1,378.0 L932.2,363.5 L932.3,417.2 L932.4,351.1 L932.5,413.1 L932.5,363.9 L932.6,416.6 L932.7,417.5 L932.8,423.8 L932.9,472.8 L933.0,342.6 L933.0,469.3 L933.1,412.5 L933.2,426.8 L933.3,442.3 L933.4,468.9 L933.5,398.0 L933.5,404.6 L933.6,486.9 L933.7,352.2 L933.8,437.5 L933.9,437.3 L933.9,344.8 L934.0,433.1 L934.1,444.1 L934.2,481.8 L934.3,390.4 L934.4,489.3 L934.4,417.6 L934.5,413.5 L934.6,476.2 L934.7,344.8 L934.8,448.7 L934.8,434.5 L934.9,390.9 L935.0,470.3 L935.1,394.9 L935.2,411.2 L935.2,418.9 L935.3,456.0 L935.4,370.8 L935.5,404.9 L935.6,402.8 L935.7,422.7 L935.7,464.1 L935.8,382.8 L935.9,464.0 L936.0,399.5 L936.1,414.6 L936.1,379.2 L936.2,414.8 L936.3,485.9 L936.4,437.1 L936.5,457.9 L936.5,387.7 L936.6,385.5 L936.7,382.7 L936.8,426.3 L936.9,433.5 L936.9,456.1 L937.0,342.9 L937.1,446.6 L937.2,471.2 L937.3,419.4 L937.3,344.0 L937.4,382.0 L937.5,337.2 L937.6,365.0 L937.7,476.1 L937.7,428.4 L937.8,435.8 L937.9,455.6 L938.0,473.9 L938.1,428.5 L938.1,429.1 L938.2,430.5 L938.3,441.0 L938.4,425.7 L938.4,438.5 L938.5,367.1 L938.6,436.1 L938.7,404.2 L938.8,450.4 L938.8,349.8 L938.9,361.9 L939.0,339.8 L939.1,451.8 L939.2,472.9 L939.2,433.5 L939.3,389.8 L939.4,458.7 L939.5,453.1 L939.6,418.9 L939.6,372.5 L939.7,379.1 L939.8,397.2 L939.9,381.4 L939.9,398.3 L940.0,430.3 L940.1,474.6 L940.2,340.8 L940.3,418.7 L940.3,338.3 L940.4,350.3 L940.5,455.3 L940.6,419.4 L940.6,471.5 L940.7,399.6 L940.8,333.8 L940.9,390.4 L941.0,421.4 L941.0,473.8 L941.1,480.3 L941.2,403.3 L941.3,393.7 L941.3,346.4 L941.4,428.7 L941.5,362.9 L941.6,353.6 L941.7,332.8 L941.7,331.0 L941.8,434.1 L941.9,348.5 L942.0,476.8 L942.0,343.2 L942.1,461.9 L942.2,349.2 L942.3,332.2 L942.3,438.7 L942.4,366.1 L942.5,440.6 L942.6,357.5 L942.7,336.5 L942.7,446.4 L942.8,437.1 L942.9,458.6 L943.0,439.3 L943.0,341.1 L943.1,423.7 L943.2,435.9 L943.3,397.9 L943.3,469.5 L943.4,366.3 L943.5,474.1 L943.6,436.5 L943.6,329.1 L943.7,329.5 L943.8,426.0 L943.9,451.2 L943.9,339.0 L944.0,374.0 L944.1,437.5 L944.2,351.7 L944.3,457.2 L944.3,400.2 L944.4,335.2 L944.5,381.9 L944.6,413.3 L944.6,392.5 L944.7,428.5 L944.8,347.5 L944.9,446.6 L944.9,380.5 L945.0,423.2 L945.1,420.8 L945.2,388.4 L945.2,383.4 L945.3,444.2 L945.4,468.2 L945.5,443.7 L945.5,410.5 L945.6,368.6 L945.7,333.3 L945.8,472.0 L945.8,430.7 L945.9,449.5 L946.0,374.0 L946.1,415.5 L946.1,471.9 L946.2,449.5 L946.3,414.4 L946.4,369.8 L946.4,388.0 L946.5,457.7 L946.6,379.8 L946.6,426.5 L946.7,413.8 L946.8,458.4 L946.9,444.8 L946.9,365.0 L947.0,322.1 L947.1,361.7 L947.2,385.8 L947.2,410.6 L947.3,445.4 L947.4,456.1 L947.5,327.5 L947.5,447.6 L947.6,444.2 L947.7,452.5 L947.8,407.5 L947.8,362.1 L947.9,449.7 L948.0,442.9 L948.1,424.1 L948.1,458.8 L948.2,372.5 L948.3,332.6 L948.3,403.7 L948.4,440.6 L948.5,349.8 L948.6,433.2 L948.6,460.7 L948.7,354.5 L948.8,411.0 L948.9,421.7 L948.9,389.3 L949.0,349.8 L949.1,357.0 L949.2,432.3 L949.2,438.4 L949.3,387.8 L949.4,331.1 L949.4,440.3 L949.5,434.9 L949.6,352.8 L949.7,405.4 L949.7,453.5 L949.8,451.5 L949.9,396.2 L950.0,389.2 L950.0,406.2 L950.1,345.3 L950.2,345.6 L950.2,343.7 L950.3,422.7 L950.4,371.1 L950.5,401.7 L950.5,376.9 L950.6,394.2 L950.7,338.1 L950.7,322.1 L950.8,466.8 L950.9,371.9 L951.0,331.1 L951.0,411.0 L951.1,434.4 L951.2,338.3 L951.2,405.2 L951.3,366.7 L951.4,393.2 L951.5,317.2 L951.5,319.0 L951.6,464.3 L951.7,445.3 L951.8,387.5 L951.8,399.6 L951.9,353.1 L952.0,431.6 L952.0,377.8 L952.1,456.8 L952.2,429.4 L952.2,437.1 L952.3,459.0 L952.4,351.0 L952.5,318.0 L952.5,342.7 L952.6,339.5 L952.7,324.6 L952.7,319.5 L952.8,396.3 L952.9,443.8 L953.0,381.0 L953.0,455.2 L953.1,449.4 L953.2,320.7 L953.2,401.7 L953.3,371.1 L953.4,328.8 L953.5,456.3 L953.5,349.4 L953.6,396.0 L953.7,407.4 L953.7,455.3 L953.8,411.6 L953.9,369.4 L953.9,377.7 L954.0,333.7 L954.1,456.1 L954.2,459.9 L954.2,342.7 L954.3,314.8 L954.4,347.7 L954.4,362.1 L954.5,445.7 L954.6,445.9 L954.6,435.5 L954.7,315.3 L954.8,427.5 L954.9,415.7 L954.9,406.0 L955.0,457.4 L955.1,316.0 L955.1,329.4 L955.2,422.0 L955.3,449.9 L955.3,409.8 L955.4,352.2 L955.5,396.6 L955.6,421.8 L955.6,322.5 L955.7,355.5 L955.8,345.2 L955.8,324.9 L955.9,379.1 L956.0,331.4 L956.0,341.9 L956.1,327.3 L956.2,408.4 L956.2,307.2 L956.3,414.2 L956.4,334.7 L956.5,310.4 L956.5,445.8 L956.6,338.2 L956.7,446.5 L956.7,436.1 L956.8,439.3 L956.9,325.4 L956.9,372.0 L957.0,318.6 L957.1,444.9 L957.1,431.6 L957.2,399.0 L957.3,372.1 L957.3,354.9 L957.4,428.2 L957.5,375.5 L957.6,398.3 L957.6,324.4 L957.7,336.3 L957.8,311.1 L957.8,410.8 L957.9,386.3 L958.0,324.0 L958.0,434.3 L958.1,342.3 L958.2,364.2 L958.2,325.2 L958.3,342.6 L958.4,428.9 L958.4,352.0 L958.5,326.5 L958.6,375.5 L958.6,349.1 L958.7,437.9 L958.8,317.8 L958.8,449.1 L958.9,308.9 L959.0,436.2 L959.0,401.6 L959.1,331.9 L959.2,372.3 L959.3,343.1 L959.3,338.6 L959.4,330.0 L959.5,354.6 L959.5,449.7 L959.6,450.7 L959.7,439.4 L959.7,313.5 L959.8,342.6 L959.9,434.7 L959.9,307.0 L960.0,408.6 L960.1,342.7 L960.1,446.7 L960.2,300.2 L960.3,420.3 L960.3,349.3 L960.4,318.7 L960.5,297.6 L960.5,423.6 L960.6,377.1 L960.7,325.1 L960.7,362.9 L960.8,435.2 L960.9,329.7 L960.9,383.2 L961.0,317.2 L961.1,323.5 L961.1,413.1 L961.2,404.0 L961.3,325.6 L961.3,307.6 L961.4,308.8 L961.5,387.8 L961.5,370.5 L961.6,336.7 L961.7,326.3 L961.7,387.9 L961.8,402.3 L961.9,417.9 L961.9,383.0 L962.0,325.1 L962.1,304.2 L962.1,405.4 L962.2,356.0 L962.3,403.5 L962.3,302.1 L962.4,416.8 L962.5,344.4 L962.5,421.3 L962.6,424.6 L962.6,368.0 L962.7,295.2 L962.8,431.1 L962.8,365.1 L962.9,425.1 L963.0,332.9 L963.0,320.5 L963.1,418.5 L963.2,347.8 L963.2,316.7 L963.3,348.2 L963.4,382.0 L963.4,292.2 L963.5,370.4 L963.6,359.0 L963.6,369.5 L963.7,309.3 L963.8,399.5 L963.8,414.8 L963.9,422.1 L964.0,339.3 L964.0,398.4 L964.1,348.2 L964.2,404.3 L964.2,299.3 L964.3,422.5 L964.3,434.7 L964.4,364.8 L964.5,367.5 L964.5,370.0 L964.6,370.9 L964.7,292.2 L964.7,436.0 L964.8,322.8 L964.9,316.4 L964.9,304.2 L965.0,326.5 L965.1,412.5 L965.1,292.7 L965.2,302.7 L965.3,394.2 L965.3,317.4 L965.4,290.3 L965.4,378.6 L965.5,375.0 L965.6,366.8 L965.6,394.0 L965.7,302.7 L965.8,419.1 L965.8,395.8 L965.9,293.5 L966.0,305.2 L966.0,361.4 L966.1,362.4 L966.2,328.6 L966.2,304.6 L966.3,347.5 L966.3,306.6 L966.4,375.6 L966.5,416.4 L966.5,307.8 L966.6,372.3 L966.7,398.6 L966.7,310.0 L966.8,410.4 L966.9,427.3 L966.9,343.7 L967.0,348.4 L967.0,412.0 L967.1,364.1 L967.2,344.2 L967.2,427.1 L967.3,401.9 L967.4,335.2 L967.4,320.1 L967.5,334.4 L967.6,349.6 L967.6,432.4 L967.7,405.4 L967.7,421.7 L967.8,406.7 L967.9,411.6 L967.9,290.7 L968.0,361.1 L968.1,427.9 L968.1,424.2 L968.2,320.0 L968.3,346.1 L968.3,378.0 L968.4,337.1 L968.4,362.3 L968.5,292.0 L968.6,347.1 L968.6,357.9 L968.7,284.2 L968.8,302.1 L968.8,428.2 L968.9,398.7 L968.9,423.0 L969.0,376.7 L969.1,403.3 L969.1,414.6 L969.2,414.5 L969.3,285.2 L969.3,377.3 L969.4,320.1 L969.4,382.7 L969.5,321.0 L969.6,361.7 L969.6,419.7 L969.7,373.5 L969.8,317.0 L969.8,357.9 L969.9,344.6 L969.9,423.1 L970.0,322.1 L970.1,324.7 L970.1,376.6 L970.2,296.4 L970.3,368.3 L970.3,423.1 L970.4,355.8 L970.4,318.4 L970.5,348.3 L970.6,358.5 L970.6,299.7 L970.7,295.9 L970.7,296.9 L970.8,321.4 L970.9,338.5 L970.9,320.4 L971.0,313.4 L971.1,289.7 L971.1,359.2 L971.2,403.7 L971.2,368.7 L971.3,362.5 L971.4,374.5 L971.4,306.1 L971.5,383.4 L971.5,345.4 L971.6,358.5 L971.7,368.2 L971.7,346.2 L971.8,322.0 L971.9,311.5 L971.9,308.3 L972.0,352.3 L972.0,332.6 L972.1,363.2 L972.2,275.9 L972.2,327.6 L972.3,404.8 L972.3,310.0 L972.4,358.2 L972.5,348.2 L972.5,316.6 L972.6,423.3 L972.7,318.0 L972.7,390.3 L972.8,296.9 L972.8,282.9 L972.9,405.0 L973.0,339.3 L973.0,281.8 L973.1,331.2 L973.1,339.0 L973.2,383.8 L973.3,288.5 L973.3,306.0 L973.4,417.4 L973.4,383.8 L973.5,294.8 L973.6,322.5 L973.6,324.7 L973.7,373.6 L973.7,364.5 L973.8,399.9 L973.9,395.4 L973.9,349.2 L974.0,382.7 L974.0,383.2 L974.1,385.6 L974.2,342.2 L974.2,389.2 L974.3,377.5 L974.3,408.7 L974.4,288.9 L974.5,401.8 L974.5,269.9 L974.6,385.5 L974.6,358.1 L974.7,344.6 L974.8,415.1 L974.8,355.6 L974.9,332.1 L974.9,387.5 L975.0,401.0 L975.1,360.5 L975.1,325.7 L975.2,336.7 L975.2,337.4 L975.3,377.6 L975.4,312.1 L975.4,326.8 L975.5,351.7 L975.5,325.6 L975.6,316.0 L975.7,386.6 L975.7,396.0 L975.8,342.6 L975.8,334.1 L975.9,294.5 L976.0,312.6 L976.0,288.3 L976.1,353.6 L976.1,354.4 L976.2,279.2 L976.3,405.6 L976.3,314.8 L976.4,393.7 L976.4,392.8 L976.5,411.0 L976.6,296.2 L976.6,329.8 L976.7,403.3 L976.7,266.4 L976.8,271.9 L976.9,350.4 L976.9,340.0 L977.0,404.2 L977.0,381.7 L977.1,345.9 L977.1,415.7 L977.2,342.4 L977.3,342.3 L977.3,367.7 L977.4,322.6 L977.4,317.7 L977.5,353.6 L977.6,316.4 L977.6,407.0 L977.7,365.7 L977.7,342.6 L977.8,277.6 L977.9,319.4 L977.9,323.3 L978.0,347.6 L978.0,349.4 L978.1,395.7 L978.1,408.5 L978.2,335.7 L978.3,328.5 L978.3,356.5 L978.4,412.8 L978.4,313.5 L978.5,341.7 L978.6,385.0 L978.6,286.9 L978.7,309.1 L978.7,409.4 L978.8,386.1 L978.8,338.4 L978.9,277.1 L979.0,396.2 L979.0,364.9 L979.1,384.7 L979.1,410.4 L979.2,394.7 L979.2,323.6 L979.3,283.3 L979.4,303.4 L979.4,337.0 L979.5,335.9 L979.5,287.6 L979.6,286.6 L979.7,354.5 L979.7,350.3 L979.8,312.2 L979.8,409.5 L979.9,355.0 L979.9,264.6 L980.0,320.6 L980.1,377.7 L980.1,304.4 L980.2,362.7 L980.2,258.2 L980.3,303.7 L980.3,385.4 L980.4,346.3 L980.5,358.7 L980.5,286.9 L980.6,332.5 L980.6,340.9 L980.7,297.1 L980.7,354.8 L980.8,337.2 L980.9,407.8 L980.9,343.5 L981.0,318.5 L981.0,274.4 L981.1,279.6 L981.1,371.1 L981.2,271.8 L981.3,270.7 L981.3,281.3 L981.4,334.6 L981.4,380.2 L981.5,348.2 L981.5,377.5 L981.6,264.2 L981.7,256.5 L981.7,371.7 L981.8,303.5 L981.8,363.0 L981.9,308.0 L981.9,279.8 L982.0,294.5 L982.1,268.9 L982.1,391.1 L982.2,342.1 L982.2,306.5 L982.3,321.7 L982.3,311.9 L982.4,261.4 L982.5,388.4 L982.5,341.5 L982.6,398.6 L982.6,319.5 L982.7,346.8 L982.7,290.3 L982.8,259.0 L982.9,393.7 L982.9,382.0 L983.0,299.8 L983.0,388.5 L983.1,375.7 L983.1,297.8 L983.2,343.1 L983.2,397.3 L983.3,326.6 L983.4,395.5 L983.4,288.0 L983.5,310.2 L983.5,360.0 L983.6,284.3 L983.6,297.6 L983.7,383.5 L983.8,324.0 L983.8,370.7 L983.9,287.1 L983.9,276.4 L984.0,304.4 L984.0,278.1 L984.1,397.3 L984.1,293.7 L984.2,334.8 L984.3,266.8 L984.3,330.3 L984.4,307.7 L984.4,310.2 L984.5,258.8 L984.5,267.5 L984.6,374.1 L984.6,301.9 L984.7,285.6 L984.8,277.3 L984.8,291.3 L984.9,284.1 L984.9,253.2 L985.0,348.8 L985.0,299.6 L985.1,271.3 L985.1,354.8 L985.2,261.4 L985.3,288.2 L985.3,374.1 L985.4,266.4 L985.4,314.3 L985.5,373.9 L985.5,369.0 L985.6,270.8 L985.6,300.1 L985.7,356.1 L985.8,303.5 L985.8,391.8 L985.9,277.6 L985.9,390.4 L986.0,322.5 L986.0,280.2 L986.1,314.3 L986.1,265.3 L986.2,352.7 L986.2,284.8 L986.3,381.8 L986.4,334.3 L986.4,300.8 L986.5,282.2 L986.5,337.1 L986.6,276.8 L986.6,377.0 L986.7,263.0 L986.7,322.2 L986.8,326.5 L986.9,285.1 L986.9,361.2 L987.0,302.2 L987.0,343.6 L987.1,329.8 L987.1,290.6 L987.2,302.6 L987.2,256.3 L987.3,270.0 L987.3,372.3 L987.4,291.6 L987.5,343.5 L987.5,259.2 L987.6,327.9 L987.6,297.3 L987.7,318.3 L987.7,287.3 L987.8,252.1 L987.8,289.3 L987.9,276.2 L987.9,260.9 L988.0,350.5 L988.1,284.4 L988.1,302.7 L988.2,379.4 L988.2,359.0 L988.3,375.2 L988.3,371.9 L988.4,260.9 L988.4,282.7 L988.5,245.1 L988.5,343.8 L988.6,341.3 L988.6,293.7 L988.7,302.9 L988.8,340.2 L988.8,346.2 L988.9,277.6 L988.9,368.4 L989.0,293.1 L989.0,335.1 L989.1,267.0 L989.1,256.8 L989.2,377.9 L989.2,350.6 L989.3,347.3 L989.3,245.0 L989.4,244.8 L989.5,263.2 L989.5,268.6 L989.6,284.5 L989.6,296.2 L989.7,244.1 L989.7,285.3 L989.8,335.0 L989.8,265.2 L989.9,365.3 L989.9,324.3 L990.0,346.5 L990.0,276.1 L990.1,303.4 L990.1,341.2 L990.2,290.1 L990.3,237.1 L990.3,363.7 L990.4,354.8 L990.4,280.2 L990.5,243.1 L990.5,366.3 L990.6,328.6 L990.6,243.4 L990.7,273.3 L990.7,252.9 L990.8,356.2 L990.8,267.7 L990.9,374.7 L990.9,349.5 L991.0,248.5 L991.1,340.9 L991.1,295.1 L991.2,348.8 L991.2,361.0 L991.3,277.6 L991.3,248.5 L991.4,378.5 L991.4,299.0 L991.5,375.9 L991.5,339.5 L991.6,346.5 L991.6,360.3 L991.7,329.5 L991.7,302.8 L991.8,242.1 L991.8,339.9 L991.9,298.7 L991.9,311.3 L992.0,374.5 L992.1,252.7 L992.1,349.0 L992.2,239.7 L992.2,339.8 L992.3,355.3 L992.3,272.5 L992.4,315.7 L992.4,379.9 L992.5,329.3 L992.5,315.0 L992.6,270.2 L992.6,241.1 L992.7,286.4 L992.7,294.5 L992.8,262.4 L992.8,278.9 L992.9,252.3 L992.9,338.9 L993.0,333.3 L993.1,267.4 L993.1,267.9 L993.2,309.4 L993.2,298.6 L993.3,373.1 L993.3,284.2 L993.4,276.1 L993.4,365.0 L993.5,252.0 L993.5,315.9 L993.6,280.9 L993.6,354.0 L993.7,313.3 L993.7,345.5 L993.8,255.5 L993.8,331.0 L993.9,320.6 L993.9,299.6 L994.0,345.8 L994.0,355.6 L994.1,246.6 L994.1,273.0 L994.2,283.7 L994.2,260.2 L994.3,237.9 L994.3,271.3 L994.4,258.5 L994.5,335.1 L994.5,296.4 L994.6,245.4 L994.6,277.4 L994.7,299.2 L994.7,283.1 L994.8,253.3 L994.8,238.6 L994.9,229.2 L994.9,378.3 L995.0,341.4 L995.0,240.0 L995.1,336.2 L995.1,376.1 L995.2,312.6 L995.2,243.4 L995.3,301.1 L995.3,292.7 L995.4,255.4 L995.4,309.0 L995.5,227.6 L995.5,366.0 L995.6,324.1 L995.6,321.4 L995.7,368.1 L995.7,325.0 L995.8,263.9 L995.8,263.0 L995.9,246.6 L995.9,229.6 L996.0,343.0 L996.0,352.8 L996.1,270.1 L996.1,253.2 L996.2,321.9 L996.2,353.3 L996.3,365.5 L996.3,250.2 L996.4,343.7 L996.5,350.6 L996.5,337.1 L996.6,273.8 L996.6,252.1 L996.7,349.4 L996.7,272.5 L996.8,279.8 L996.8,307.4 L996.9,279.7 L996.9,349.8 L997.0,259.7 L997.0,229.5 L997.1,309.3 L997.1,318.5 L997.2,347.6 L997.2,330.1 L997.3,360.3 L997.3,366.3 L997.4,297.7 L997.4,298.4 L997.5,246.3 L997.5,267.8 L997.6,310.5 L997.6,234.2 L997.7,326.5 L997.7,246.7 L997.8,289.1 L997.8,369.1 L997.9,235.2 L997.9,227.5 L998.0,288.1 L998.0,250.2 L998.1,331.0 L998.1,221.5 L998.2,348.7 L998.2,350.8 L998.3,340.3 L998.3,285.3 L998.4,263.6 L998.4,321.0 L998.5,298.6 L998.5,284.3 L998.6,271.6 L998.6,286.7 L998.7,321.2 L998.7,345.4 L998.8,357.1 L998.8,244.6 L998.9,264.5 L998.9,286.8 L999.0,305.0 L999.0,272.2 L999.1,248.8 L999.1,232.0 L999.2,268.1 L999.2,288.8 L999.3,366.4 L999.3,356.8 L999.4,350.1 L999.4,366.6 L999.5,364.5 L999.5,312.5 L999.6,341.4 L999.6,227.2 L999.7,320.8 L999.7,310.5 L999.8,262.9 L999.8,304.5 L999.9,362.4 L999.9,290.5 L1000.0,315.8 L1000.0,262.8 L1000.1,269.4 L1000.1,351.6 L1000.2,221.2 L1000.2,245.6 L1000.3,319.9 L1000.3,284.7 L1000.4,229.5 L1000.4,316.9 L1000.5,272.9 L1000.5,304.6 L1000.6,279.5 L1000.6,296.7 L1000.7,301.9 L1000.7,276.2 L1000.8,233.2 L1000.8,243.2 L1000.9,350.9 L1000.9,298.8 L1001.0,232.5 L1001.0,346.4 L1001.0,253.8 L1001.1,229.6 L1001.1,295.7 L1001.2,253.2 L1001.2,289.2 L1001.3,299.0 L1001.3,249.1 L1001.4,301.6 L1001.4,231.6 L1001.5,292.4 L1001.5,303.7 L1001.6,226.4 L1001.6,276.1 L1001.7,225.2 L1001.7,280.7 L1001.8,345.0 L1001.8,297.4 L1001.9,322.2 L1001.9,328.6 L1002.0,230.8 L1002.0,363.9 L1002.1,322.9 L1002.1,228.6 L1002.2,339.2 L1002.2,272.5 L1002.3,238.9 L1002.3,358.7 L1002.4,298.2 L1002.4,330.4 L1002.5,233.3 L1002.5,330.3 L1002.6,221.0 L1002.6,248.2 L1002.7,268.7 L1002.7,214.3 L1002.8,302.2 L1002.8,244.2 L1002.9,257.3 L1002.9,319.1 L1003.0,276.3 L1003.0,346.5 L1003.0,305.8 L1003.1,343.8 L1003.1,296.7 L1003.2,350.5 L1003.2,343.3 L1003.3,236.4 L1003.3,324.1 L1003.4,262.6 L1003.4,326.7 L1003.5,313.9 L1003.5,335.9 L1003.6,229.0 L1003.6,266.9 L1003.7,322.2 L1003.7,354.1 L1003.8,319.7 L1003.8,216.5 L1003.9,301.5 L1003.9,224.8 L1004.0,293.0 L1004.0,331.5 L1004.1,226.6 L1004.1,350.0 L1004.2,311.8 L1004.2,247.8 L1004.3,238.4 L1004.3,276.8 L1004.3,336.2 L1004.4,297.1 L1004.4,225.9 L1004.5,211.7 L1004.5,225.3 L1004.6,330.1 L1004.6,236.4 L1004.7,292.4 L1004.7,252.2 L1004.8,312.5 L1004.8,265.8 L1004.9,229.8 L1004.9,340.8 L1005.0,289.5 L1005.0,312.4 L1005.1,330.3 L1005.1,351.6 L1005.2,209.4 L1005.2,259.2 L1005.3,230.1 L1005.3,283.3 L1005.3,339.6 L1005.4,328.5 L1005.4,212.1 L1005.5,234.4 L1005.5,330.9 L1005.6,309.8 L1005.6,266.1 L1005.7,278.6 L1005.7,230.3 L1005.8,334.6 L1005.8,265.8 L1005.9,338.6 L1005.9,298.7 L1006.0,217.3 L1006.0,255.7 L1006.1,238.5 L1006.1,341.4 L1006.2,295.0 L1006.2,212.0 L1006.2,231.0 L1006.3,260.0 L1006.3,276.1 L1006.4,292.7 L1006.4,263.8 L1006.5,258.5 L1006.5,205.6 L1006.6,292.6 L1006.6,255.3 L1006.7,207.5 L1006.7,274.2 L1006.8,354.2 L1006.8,211.1 L1006.9,226.2 L1006.9,306.0 L1007.0,245.3 L1007.0,245.4 L1007.0,279.7 L1007.1,243.5 L1007.1,290.0 L1007.2,283.7 L1007.2,348.8 L1007.3,354.1 L1007.3,208.4 L1007.4,288.3 L1007.4,320.2 L1007.5,335.5 L1007.5,320.5 L1007.6,299.0 L1007.6,299.1 L1007.7,257.8 L1007.7,245.3 L1007.8,323.3 L1007.8,335.0 L1007.8,344.9 L1007.9,305.7 L1007.9,248.3 L1008.0,318.0 L1008.0,314.3 L1008.1,279.2 L1008.1,298.3 L1008.2,254.9 L1008.2,285.3 L1008.3,263.2 L1008.3,210.6 L1008.4,252.6 L1008.4,250.3 L1008.4,351.4 L1008.5,274.2 L1008.5,256.8 L1008.6,237.9 L1008.6,236.5 L1008.7,253.8 L1008.7,221.2 L1008.8,201.6 L1008.8,332.8 L1008.9,269.2 L1008.9,268.0 L1009.0,286.6 L1009.0,246.1 L1009.1,225.7 L1009.1,210.0 L1009.1,245.7 L1009.2,246.7 L1009.2,310.1 L1009.3,283.4 L1009.3,342.0 L1009.4,251.2 L1009.4,339.4 L1009.5,287.9 L1009.5,211.4 L1009.6,226.3 L1009.6,287.3 L1009.7,349.0 L1009.7,253.1 L1009.7,316.5 L1009.8,263.8 L1009.8,330.6 L1009.9,208.8 L1009.9,272.1 L1010.0,335.0 L1010.0,240.2 L1010.1,237.3 L1010.1,201.6 L1010.2,223.0 L1010.2,238.7 L1010.2,304.9 L1010.3,231.0 L1010.3,258.4 L1010.4,228.1 L1010.4,289.2 L1010.5,328.8 L1010.5,295.9 L1010.6,227.2 L1010.6,308.8 L1010.7,343.5 L1010.7,288.4 L1010.8,209.0 L1010.8,319.9 L1010.8,329.9 L1010.9,248.6 L1010.9,217.4 L1011.0,225.2 L1011.0,278.1 L1011.1,329.5 L1011.1,293.6 L1011.2,336.5 L1011.2,228.4 L1011.3,245.7 L1011.3,309.9 L1011.3,294.5 L1011.4,257.4 L1011.4,298.9 L1011.5,247.0 L1011.5,204.3 L1011.6,258.5 L1011.6,202.3 L1011.7,290.5 L1011.7,246.1 L1011.7,270.3 L1011.8,286.0 L1011.8,234.1 L1011.9,265.4 L1011.9,196.9 L1012.0,335.4 L1012.0,280.5 L1012.1,344.7 L1012.1,203.1 L1012.2,287.8 L1012.2,304.5 L1012.2,244.3 L1012.3,208.4 L1012.3,217.9 L1012.4,215.8 L1012.4,310.6 L1012.5,207.6 L1012.5,317.6 L1012.6,258.1 L1012.6,275.6 L1012.7,283.0 L1012.7,277.9 L1012.7,293.4 L1012.8,284.8 L1012.8,243.6 L1012.9,305.9 L1012.9,232.3 L1013.0,301.2 L1013.0,309.0 L1013.1,310.8 L1013.1,239.8 L1013.1,310.2 L1013.2,341.2 L1013.2,261.5 L1013.3,234.8 L1013.3,272.0 L1013.4,335.4 L1013.4,212.3 L1013.5,193.6 L1013.5,264.4 L1013.5,291.7 L1013.6,309.6 L1013.6,247.0 L1013.7,342.2 L1013.7,226.4 L1013.8,306.7 L1013.8,205.3 L1013.9,195.8 L1013.9,211.8 L1013.9,200.5 L1014.0,267.6 L1014.0,275.6 L1014.1,218.8 L1014.1,333.9 L1014.2,246.5 L1014.2,213.6 L1014.3,217.8 L1014.3,302.9 L1014.3,330.7 L1014.4,215.2 L1014.4,194.9 L1014.5,308.7 L1014.5,227.2 L1014.6,339.6 L1014.6,266.1 L1014.7,286.8 L1014.7,242.4 L1014.7,311.7 L1014.8,259.9 L1014.8,239.1 L1014.9,327.1 L1014.9,206.1 L1015.0,301.1 L1015.0,199.5 L1015.1,287.6 L1015.1,250.5 L1015.1,320.7 L1015.2,198.4 L1015.2,274.9 L1015.3,251.4 L1015.3,328.7 L1015.4,332.6 L1015.4,284.2 L1015.5,222.9 L1015.5,227.0 L1015.5,228.5 L1015.6,254.5 L1015.6,223.7 L1015.7,219.3 L1015.7,303.8 L1015.8,286.0 L1015.8,233.6 L1015.9,339.3 L1015.9,221.0 L1015.9,274.6 L1016.0,211.8 L1016.0,319.0 L1016.1,319.9 L1016.1,228.3 L1016.2,301.9 L1016.2,312.6 L1016.2,230.4 L1016.3,237.8 L1016.3,261.2 L1016.4,322.7 L1016.4,211.8 L1016.5,290.9 L1016.5,277.9 L1016.6,255.9 L1016.6,275.0 L1016.6,321.0 L1016.7,218.7 L1016.7,321.0 L1016.8,241.4 L1016.8,305.1 L1016.9,317.7 L1016.9,214.1 L1016.9,317.7 L1017.0,337.5 L1017.0,231.4 L1017.1,189.9 L1017.1,203.0 L1017.2,334.1 L1017.2,187.4 L1017.2,324.4 L1017.3,208.7 L1017.3,297.6 L1017.4,200.5 L1017.4,211.2 L1017.5,289.3 L1017.5,199.2 L1017.6,237.0 L1017.6,324.9 L1017.6,294.1 L1017.7,319.2 L1017.7,334.0 L1017.8,190.0 L1017.8,220.6 L1017.9,305.3 L1017.9,289.6 L1017.9,190.5 L1018.0,261.4 L1018.0,219.8 L1018.1,250.0 L1018.1,200.4 L1018.2,187.4 L1018.2,334.9 L1018.2,232.4 L1018.3,317.7 L1018.3,202.4 L1018.4,258.1 L1018.4,204.6 L1018.5,249.0 L1018.5,211.1 L1018.5,288.0 L1018.6,206.2 L1018.6,295.9 L1018.7,259.7 L1018.7,200.6 L1018.8,237.2 L1018.8,258.8 L1018.8,323.0 L1018.9,236.4 L1018.9,215.9 L1019.0,330.2 L1019.0,317.3 L1019.1,294.1 L1019.1,224.4 L1019.1,209.8 L1019.2,223.0 L1019.2,193.2 L1019.3,189.2 L1019.3,259.9 L1019.4,244.5 L1019.4,267.0 L1019.4,237.5 L1019.5,183.9 L1019.5,286.8 L1019.6,281.4 L1019.6,264.8 L1019.7,265.5 L1019.7,286.9 L1019.7,331.2 L1019.8,314.7 L1019.8,290.9 L1019.9,242.4 L1019.9,230.0 L1020.0,245.3 L1020.0,329.4 L1020.0,240.3 L1020.1,240.0 L1020.1,243.6 L1020.2,203.0 L1020.2,332.9 L1020.3,181.9 L1020.3,273.5 L1020.3,321.8 L1020.4,219.6 L1020.4,273.7 L1020.5,238.1 L1020.5,217.3 L1020.5,210.8 L1020.6,198.3 L1020.6,308.7 L1020.7,299.6 L1020.7,318.5 L1020.8,187.9 L1020.8,285.8 L1020.8,229.5 L1020.9,278.4 L1020.9,263.5 L1021.0,228.0 L1021.0,327.7 L1021.1,180.0 L1021.1,293.3 L1021.1,309.5 L1021.2,257.3 L1021.2,269.7 L1021.3,330.8 L1021.3,215.2 L1021.4,275.2 L1021.4,292.4 L1021.4,236.9 L1021.5,287.5 L1021.5,239.0 L1021.6,259.1 L1021.6,272.2 L1021.6,282.0 L1021.7,227.9 L1021.7,274.5 L1021.8,261.4 L1021.8,212.7 L1021.9,271.8 L1021.9,218.9 L1021.9,316.7 L1022.0,250.5 L1022.0,288.1 L1022.1,257.8 L1022.1,250.8 L1022.1,211.9 L1022.2,199.8 L1022.2,319.1 L1022.3,258.5 L1022.3,257.7 L1022.4,258.2 L1022.4,301.5 L1022.4,214.1 L1022.5,204.0 L1022.5,302.7 L1022.6,247.6 L1022.6,275.0 L1022.6,303.3 L1022.7,313.4 L1022.7,309.3 L1022.8,184.0 L1022.8,235.3 L1022.9,303.7 L1022.9,301.5 L1022.9,195.8 L1023.0,200.5 L1023.0,215.2 L1023.1,192.6 L1023.1,231.1 L1023.1,298.9 L1023.2,256.0 L1023.2,245.5 L1023.3,190.0 L1023.3,236.7 L1023.4,328.1 L1023.4,282.1 L1023.4,244.7 L1023.5,249.1 L1023.5,297.6 L1023.6,291.6 L1023.6,199.0 L1023.6,279.5 L1023.7,231.8 L1023.7,255.2 L1023.8,212.1 L1023.8,232.3 L1023.9,227.5 L1023.9,233.7 L1023.9,178.4 L1024.0,206.2 L1024.0,262.3 L1024.1,184.3 L1024.1,202.6 L1024.1,284.6 L1024.2,217.1 L1024.2,224.6 L1024.3,212.0 L1024.3,302.0 L1024.3,189.0 L1024.4,271.8 L1024.4,305.6 L1024.5,205.6 L1024.5,239.2 L1024.6,295.3 L1024.6,268.7 L1024.6,231.2 L1024.7,181.4 L1024.7,241.9 L1024.8,230.4 L1024.8,282.8 L1024.8,219.3 L1024.9,236.4 L1024.9,272.9 L1025.0,297.5 L1025.0,227.8 L1025.0,232.8 L1025.1,262.1 L1025.1,314.6 L1025.2,203.1 L1025.2,321.6 L1025.2,282.1 L1025.3,230.5 L1025.3,275.0 L1025.4,223.8 L1025.4,184.4 L1025.5,288.6 L1025.5,231.2 L1025.5,253.4 L1025.6,249.0 L1025.6,310.4 L1025.7,288.4 L1025.7,177.2 L1025.7,263.4 L1025.8,243.5 L1025.8,243.4 L1025.9,300.7 L1025.9,236.1 L1025.9,245.0 L1026.0,308.3 L1026.0,239.7 L1026.1,247.5 L1026.1,250.6 L1026.1,298.1 L1026.2,274.6 L1026.2,285.2 L1026.3,233.6 L1026.3,178.7 L1026.3,275.8 L1026.4,256.6 L1026.4,289.3 L1026.5,289.3 L1026.5,190.2 L1026.5,205.7 L1026.6,183.8 L1026.6,296.3 L1026.7,187.5 L1026.7,185.4 L1026.8,286.4 L1026.8,257.7 L1026.8,180.2 L1026.9,275.3 L1026.9,279.8 L1027.0,245.0 L1027.0,179.9 L1027.0,276.6 L1027.1,235.0 L1027.1,260.2 L1027.2,323.1 L1027.2,295.5 L1027.2,303.8 L1027.3,193.4 L1027.3,222.0 L1027.4,249.9 L1027.4,172.0 L1027.4,321.3 L1027.5,212.7 L1027.5,210.8 L1027.6,218.5 L1027.6,209.6 L1027.6,301.3 L1027.7,255.2 L1027.7,248.3 L1027.8,234.5 L1027.8,178.3 L1027.8,216.8 L1027.9,302.2 L1027.9,292.3 L1028.0,300.6 L1028.0,209.4 L1028.0,201.0 L1028.1,178.1 L1028.1,251.8 L1028.2,226.9 L1028.2,240.6 L1028.2,244.4 L1028.3,258.7 L1028.3,225.5 L1028.4,291.7 L1028.4,200.3 L1028.4,309.5 L1028.5,254.3 L1028.5,177.5 L1028.6,217.4 L1028.6,250.6 L1028.6,231.7" stroke-width="1.90"/>
</g>
<path d="M740.0,441.0 L742.0,432.1 L744.0,423.2 L746.0,414.5 L748.0,405.9 L750.0,397.5 L752.0,389.4 L754.0,381.4 L756.0,373.8 L758.0,366.5 L760.0,359.4 L762.0,352.8 L764.0,346.5 L766.0,340.6 L768.0,335.0 L770.0,329.8 L772.0,324.8 L774.0,320.2 L776.0,315.8 L778.0,311.7 L780.0,307.9 L782.0,304.7 L784.0,301.7 L786.0,299.0 L788.0,296.5 L790.0,294.3 L792.0,292.3 L794.0,290.5 L796.0,289.1 L798.0,287.9 L800.0,286.9 L802.0,286.2 L804.0,285.8 L806.0,285.6 L808.0,285.7 L810.0,286.0 L812.0,286.5 L814.0,287.3 L816.0,288.3 L818.0,289.5 L820.0,290.9 L822.0,292.5 L824.0,294.3 L826.0,296.3 L828.0,298.5 L830.0,300.7 L832.0,303.0 L834.0,305.3 L836.0,307.7 L838.0,310.1 L840.0,312.5 L842.0,314.8 L844.0,317.2 L846.0,319.5 L848.0,321.8 L850.0,324.1 L852.0,326.4 L854.0,328.7 L856.0,331.0 L858.0,333.3 L860.0,335.5 L862.0,337.8 L864.0,340.0 L866.0,342.2 L868.0,344.4 L870.0,346.6 L872.0,348.8 L874.0,350.9 L876.0,352.9 L878.0,354.9 L880.0,356.7 L882.0,358.6 L884.0,360.3 L886.0,361.8 L888.0,363.2 L890.0,364.3 L892.0,365.3 L894.0,366.1 L896.0,366.7 L898.0,367.1 L900.0,367.3 L902.0,367.4 L904.0,367.4 L906.0,367.2 L908.0,366.8 L910.0,366.3 L912.0,365.7 L914.0,364.9 L916.0,363.9 L918.0,362.8 L920.0,361.6 L922.0,360.1 L924.0,358.5 L926.0,356.7 L928.0,354.6 L930.0,352.4 L932.0,350.0 L934.0,347.4 L936.0,344.5 L938.0,341.4 L940.0,338.1 L942.0,334.7 L944.0,331.0 L946.0,327.3 L948.0,323.3 L950.0,319.3 L952.0,315.2 L954.0,311.0 L956.0,306.8 L958.0,302.5 L960.0,298.2 L962.0,294.3 L964.0,290.4 L966.0,286.4 L968.0,282.5 L970.0,278.4 L972.0,274.4 L974.0,270.3 L976.0,266.3 L978.0,262.2 L980.0,258.1 L982.0,253.9 L984.0,249.8 L986.0,245.7 L988.0,241.6 L990.0,237.5 L992.0,233.4 L994.0,229.3 L996.0,225.3 L998.0,221.3 L1000.0,217.3 L1002.0,213.4 L1004.0,209.5 L1006.0,205.7 L1008.0,202.0 L1010.0,198.3 L1012.0,194.7 L1014.0,191.3 L1016.0,187.9 L1018.0,184.6 L1020.0,181.5 L1022.0,178.5 L1024.0,175.6 L1026.0,172.9 L1028.0,170.3 L1030.0,167.9 L1032.0,165.6 L1034.0,163.5 L1036.0,161.6 L1038.0,159.8 L1040.0,158.1 L1042.0,156.5 L1044.0,155.1 L1046.0,153.7 L1048.0,152.5 L1050.0,151.3 L1052.0,150.2 L1054.0,149.2 L1056.0,148.2 L1058.0,147.4 L1060.0,146.7 L1062.0,146.0 L1064.0,145.5 L1066.0,145.1 L1068.0,144.9 L1070.0,144.8 L1072.0,144.8 L1074.0,145.0 L1076.0,145.3 L1078.0,145.8 L1080.0,146.4 L1082.0,147.1 L1084.0,148.0 L1086.0,149.0 L1088.0,150.2 L1090.0,151.5 L1092.0,152.9 L1094.0,154.5 L1096.0,156.3 L1098.0,158.1 L1100.0,160.1 L1102.0,162.1 L1104.0,164.3 L1106.0,166.6 L1108.0,169.0 L1110.0,171.6 L1112.0,174.2 L1114.0,176.9 L1116.0,179.6 L1118.0,182.5 L1120.0,185.5 L1122.0,188.5 L1124.0,191.7 L1126.0,194.9 L1128.0,198.2 L1130.0,201.5 L1132.0,205.0 L1134.0,208.5 L1136.0,212.1 L1138.0,215.8 L1140.0,219.5 L1142.0,223.3 L1144.0,227.2 L1146.0,231.1 L1148.0,235.2 L1150.0,239.2 L1152.0,243.4 L1154.0,247.6 L1156.0,251.8 L1158.0,256.1 L1160.0,260.5 L1162.0,264.9 L1164.0,269.3 L1166.0,273.8 L1168.0,278.4 L1170.0,283.0 L1172.0,287.6 L1174.0,292.2 L1176.0,296.9 L1178.0,301.6 L1180.0,306.3 L1182.0,311.1 L1184.0,315.9 L1186.0,320.7 L1188.0,325.5 L1190.0,330.3 L1192.0,335.1 L1194.0,340.0 L1196.0,344.8 L1198.0,349.7 L1200.0,354.5 L1202.0,359.4 L1204.0,364.2 L1206.0,369.0 L1208.0,373.9 L1210.0,378.7 L1212.0,383.5 L1214.0,388.3 L1216.0,393.1 L1218.0,397.9 L1220.0,402.6 L1222.0,407.4 L1224.0,412.1 L1226.0,416.8 L1228.0,421.5 L1230.0,426.1 L1232.0,430.7 L1234.0,435.4 L1236.0,439.9 L1238.0,444.5 L1240.0,449.0 L1242.0,453.5 L1244.0,458.0 L1246.0,462.4 L1248.0,466.9 L1250.0,471.3 L1252.0,475.7 L1254.0,480.1 L1256.0,484.5 L1258.0,488.8 L1260.0,493.2 L1262.0,497.5 L1264.0,501.8 L1266.0,506.1 L1268.0,510.4 L1270.0,514.7 L1272.0,519.0 L1274.0,523.3 L1276.0,527.6 L1278.0,531.8 L1280.0,536.1 L1282.0,540.3 L1284.0,544.5 L1286.0,548.7 L1288.0,552.8 L1290.0,557.0 L1292.0,561.1 L1294.0,565.1 L1296.0,569.2 L1298.0,573.2 L1300.0,577.1 L1302.0,581.1 L1304.0,585.0 L1306.0,588.8 L1308.0,592.6 L1310.0,596.4 L1312.0,600.1 L1314.0,603.7 L1316.0,607.4 L1318.0,610.9 L1320.0,614.5 L1322.0,618.0 L1324.0,621.4 L1326.0,624.8 L1328.0,628.2 L1330.0,631.5 L1332.0,634.8 L1334.0,638.1 L1336.0,641.3 L1338.0,644.4 L1340.0,647.5 L1342.0,650.6 L1344.0,653.7 L1346.0,656.7 L1348.0,659.8 L1350.0,662.8 L1352.0,665.7 L1354.0,668.7 L1356.0,671.6 L1358.0,674.6 L1360.0,677.5 L1362.0,680.3 L1364.0,683.2 L1366.0,686.0 L1368.0,688.8 L1370.0,691.6 L1372.0,694.3 L1374.0,697.0 L1376.0,699.6 L1378.0,702.2 L1380.0,704.8 L1382.0,707.3 L1384.0,709.8 L1386.0,712.2 L1388.0,714.7 L1390.0,717.1 L1392.0,719.4 L1394.0,721.8 L1396.0,724.1 L1398.0,726.4 L1400.0,728.6 L1402.0,730.9 L1404.0,733.1 L1406.0,735.4 L1408.0,737.6 L1410.0,739.7 L1412.0,741.9 L1414.0,744.0 L1416.0,746.1 L1418.0,748.2 L1420.0,750.3 L1422.0,752.3 L1424.0,754.3 L1426.0,756.2 L1428.0,758.1 L1430.0,760.0 L1432.0,761.8 L1434.0,763.6 L1436.0,765.4 L1438.0,767.1 L1440.0,768.9 L1442.0,770.6 L1444.0,772.3 L1446.0,773.9 L1448.0,775.6 L1450.0,777.2 L1452.0,778.8 L1454.0,780.4 L1456.0,782.0 L1458.0,783.6 L1460.0,785.2 L1462.0,786.8 L1464.0,788.3 L1466.0,789.8 L1468.0,791.4 L1470.0,792.8 L1472.0,794.3 L1474.0,795.8 L1476.0,797.2 L1478.0,798.7 L1480.0,800.1 L1482.0,801.5 L1484.0,802.8 L1486.0,804.2 L1488.0,805.5 L1490.0,806.8 L1492.0,808.1 L1494.0,809.3 L1496.0,810.6 L1498.0,811.8 L1500.0,813.0 L1502.0,814.2 L1504.0,815.3 L1506.0,816.4 L1508.0,817.5 L1510.0,818.6 L1512.0,819.7 L1514.0,820.7 L1516.0,821.8 L1518.0,822.8 L1520.0,823.8 L1522.0,824.8 L1524.0,825.8 L1526.0,826.8 L1528.0,827.7 L1530.0,828.7 L1532.0,829.6 L1534.0,830.5 L1536.0,831.5 L1538.0,832.4 L1540.0,833.3 L1542.0,834.1 L1544.0,835.0 L1546.0,835.9 L1548.0,836.7 L1550.0,837.6 L1552.0,838.4 L1554.0,839.2 L1556.0,840.0 L1558.0,840.8 L1560.0,841.6 L1562.0,842.3 L1564.0,843.1 L1566.0,843.8 L1568.0,844.6 L1570.0,845.3 L1572.0,846.0 L1574.0,846.7 L1576.0,847.4 L1578.0,848.1 L1580.0,848.8 L1582.0,849.5 L1584.0,850.1 L1586.0,850.8 L1588.0,851.4 L1590.0,852.1 L1592.0,852.7 L1594.0,853.3 L1596.0,853.9 L1598.0,854.5 L1600.0,855.1 L1602.0,855.7 L1604.0,856.3 L1606.0,856.9 L1608.0,857.4 L1610.0,858.0 L1612.0,858.5 L1614.0,859.1 L1616.0,859.6 L1618.0,860.1 L1620.0,860.7 L1622.0,861.2 L1624.0,861.7 L1626.0,862.2 L1628.0,862.7 L1630.0,863.2 L1632.0,863.7 L1634.0,864.1 L1636.0,864.6 L1638.0,865.1 L1640.0,865.5 L1642.0,866.0 L1644.0,866.4 L1646.0,866.9 L1648.0,867.3 L1650.0,867.7 L1652.0,868.1 L1654.0,868.5 L1656.0,868.9 L1658.0,869.3 L1660.0,869.7 L1662.0,870.1 L1664.0,870.4 L1666.0,870.8 L1668.0,871.1 L1670.0,871.5 L1672.0,871.8 L1674.0,872.2 L1676.0,872.5 L1678.0,872.8 L1680.0,873.1 L1682.0,873.4 L1684.0,873.8 L1686.0,874.1 L1688.0,874.4 L1690.0,874.7 L1692.0,875.0 L1694.0,875.3 L1696.0,875.5 L1698.0,875.8 L1700.0,876.1 L1702.0,876.4 L1704.0,876.7 L1706.0,876.9 L1708.0,877.2 L1710.0,877.4 L1712.0,877.7 L1714.0,877.9 L1716.0,878.2 L1718.0,878.4 L1720.0,878.6 L1722.0,878.8 L1724.0,879.0 L1726.0,879.3 L1728.0,879.4 L1730.0,879.6 L1732.0,879.8 L1734.0,880.0 L1736.0,880.2 L1738.0,880.3 L1740.0,880.5 L1742.0,880.6 L1744.0,880.8 L1746.0,880.9 L1748.0,881.1 L1750.0,881.2 L1752.0,881.3 L1754.0,881.4 L1756.0,881.5 L1758.0,881.7 L1760.0,881.8 L1762.0,881.9 L1764.0,882.0 L1766.0,882.1 L1768.0,882.2 L1770.0,882.3 L1772.0,882.3 L1774.0,882.4 L1776.0,882.5 L1778.0,882.6 L1780.0,882.7 L1782.0,882.8 L1782.4,882.8 L1782.4,1034.8 L1782.0,1034.8 L1780.0,1034.7 L1778.0,1034.6 L1776.0,1034.5 L1774.0,1034.4 L1772.0,1034.3 L1770.0,1034.3 L1768.0,1034.2 L1766.0,1034.1 L1764.0,1034.0 L1762.0,1033.9 L1760.0,1033.8 L1758.0,1033.7 L1756.0,1033.5 L1754.0,1033.4 L1752.0,1033.3 L1750.0,1033.2 L1748.0,1033.1 L1746.0,1032.9 L1744.0,1032.8 L1742.0,1032.6 L1740.0,1032.5 L1738.0,1032.3 L1736.0,1032.2 L1734.0,1032.0 L1732.0,1031.8 L1730.0,1031.6 L1728.0,1031.4 L1726.0,1031.3 L1724.0,1031.0 L1722.0,1030.8 L1720.0,1030.6 L1718.0,1030.4 L1716.0,1030.2 L1714.0,1029.9 L1712.0,1029.7 L1710.0,1029.4 L1708.0,1029.2 L1706.0,1028.9 L1704.0,1028.7 L1702.0,1028.4 L1700.0,1028.1 L1698.0,1027.8 L1696.0,1027.5 L1694.0,1027.3 L1692.0,1027.0 L1690.0,1026.7 L1688.0,1026.4 L1686.0,1026.1 L1684.0,1025.8 L1682.0,1025.4 L1680.0,1025.1 L1678.0,1024.8 L1676.0,1024.5 L1674.0,1024.2 L1672.0,1023.8 L1670.0,1023.5 L1668.0,1023.1 L1666.0,1022.8 L1664.0,1022.4 L1662.0,1022.1 L1660.0,1021.7 L1658.0,1021.3 L1656.0,1020.9 L1654.0,1020.5 L1652.0,1020.1 L1650.0,1019.7 L1648.0,1019.3 L1646.0,1018.9 L1644.0,1018.4 L1642.0,1018.0 L1640.0,1017.5 L1638.0,1017.1 L1636.0,1016.6 L1634.0,1016.1 L1632.0,1015.7 L1630.0,1015.2 L1628.0,1014.7 L1626.0,1014.2 L1624.0,1013.7 L1622.0,1013.2 L1620.0,1012.7 L1618.0,1012.1 L1616.0,1011.6 L1614.0,1011.1 L1612.0,1010.5 L1610.0,1010.0 L1608.0,1009.4 L1606.0,1008.9 L1604.0,1008.3 L1602.0,1007.7 L1600.0,1007.1 L1598.0,1006.5 L1596.0,1005.9 L1594.0,1005.3 L1592.0,1004.7 L1590.0,1004.1 L1588.0,1003.4 L1586.0,1002.8 L1584.0,1002.1 L1582.0,1001.5 L1580.0,1000.8 L1578.0,1000.1 L1576.0,999.4 L1574.0,998.7 L1572.0,998.0 L1570.0,997.3 L1568.0,996.6 L1566.0,995.8 L1564.0,995.1 L1562.0,994.3 L1560.0,993.6 L1558.0,992.8 L1556.0,992.0 L1554.0,991.2 L1552.0,990.4 L1550.0,989.6 L1548.0,988.7 L1546.0,987.9 L1544.0,987.0 L1542.0,986.1 L1540.0,985.3 L1538.0,984.4 L1536.0,983.5 L1534.0,982.5 L1532.0,981.6 L1530.0,980.7 L1528.0,979.7 L1526.0,978.8 L1524.0,977.8 L1522.0,976.8 L1520.0,975.8 L1518.0,974.8 L1516.0,973.8 L1514.0,972.7 L1512.0,971.7 L1510.0,970.6 L1508.0,969.5 L1506.0,968.4 L1504.0,967.3 L1502.0,966.2 L1500.0,965.0 L1498.0,963.8 L1496.0,962.6 L1494.0,961.3 L1492.0,960.1 L1490.0,958.8 L1488.0,957.5 L1486.0,956.2 L1484.0,954.8 L1482.0,953.5 L1480.0,952.1 L1478.0,950.7 L1476.0,949.2 L1474.0,947.8 L1472.0,946.3 L1470.0,944.8 L1468.0,943.4 L1466.0,941.8 L1464.0,940.3 L1462.0,938.8 L1460.0,937.2 L1458.0,935.6 L1456.0,934.0 L1454.0,932.4 L1452.0,930.8 L1450.0,929.2 L1448.0,927.6 L1446.0,925.9 L1444.0,924.3 L1442.0,922.6 L1440.0,920.9 L1438.0,919.1 L1436.0,917.4 L1434.0,915.6 L1432.0,913.8 L1430.0,912.0 L1428.0,910.1 L1426.0,908.2 L1424.0,906.3 L1422.0,904.3 L1420.0,902.3 L1418.0,900.2 L1416.0,898.1 L1414.0,896.0 L1412.0,893.9 L1410.0,891.7 L1408.0,889.6 L1406.0,887.4 L1404.0,885.1 L1402.0,882.9 L1400.0,880.6 L1398.0,878.4 L1396.0,876.1 L1394.0,873.8 L1392.0,871.4 L1390.0,869.1 L1388.0,866.7 L1386.0,864.2 L1384.0,861.8 L1382.0,859.3 L1380.0,856.8 L1378.0,854.2 L1376.0,851.6 L1374.0,849.0 L1372.0,846.3 L1370.0,843.6 L1368.0,840.8 L1366.0,838.0 L1364.0,835.2 L1362.0,832.3 L1360.0,829.5 L1358.0,826.6 L1356.0,823.6 L1354.0,820.7 L1352.0,817.7 L1350.0,814.8 L1348.0,811.8 L1346.0,808.7 L1344.0,805.7 L1342.0,802.6 L1340.0,799.5 L1338.0,796.4 L1336.0,793.3 L1334.0,790.1 L1332.0,786.8 L1330.0,783.5 L1328.0,780.2 L1326.0,776.8 L1324.0,773.4 L1322.0,770.0 L1320.0,766.5 L1318.0,762.9 L1316.0,759.4 L1314.0,755.7 L1312.0,752.1 L1310.0,748.4 L1308.0,744.6 L1306.0,740.8 L1304.0,737.0 L1302.0,733.1 L1300.0,729.1 L1298.0,725.2 L1296.0,721.2 L1294.0,717.1 L1292.0,713.1 L1290.0,709.0 L1288.0,704.8 L1286.0,700.7 L1284.0,696.5 L1282.0,692.3 L1280.0,688.1 L1278.0,683.8 L1276.0,679.6 L1274.0,675.3 L1272.0,671.0 L1270.0,666.7 L1268.0,662.4 L1266.0,658.1 L1264.0,653.8 L1262.0,649.5 L1260.0,645.2 L1258.0,640.8 L1256.0,636.5 L1254.0,632.1 L1252.0,627.7 L1250.0,623.3 L1248.0,618.9 L1246.0,614.4 L1244.0,610.0 L1242.0,605.5 L1240.0,601.0 L1238.0,596.5 L1236.0,591.9 L1234.0,587.4 L1232.0,582.7 L1230.0,578.1 L1228.0,573.5 L1226.0,568.8 L1224.0,564.1 L1222.0,559.4 L1220.0,554.6 L1218.0,549.9 L1216.0,545.1 L1214.0,540.3 L1212.0,535.5 L1210.0,530.7 L1208.0,525.9 L1206.0,521.0 L1204.0,516.2 L1202.0,511.4 L1200.0,506.5 L1198.0,501.7 L1196.0,496.8 L1194.0,492.0 L1192.0,487.1 L1190.0,482.3 L1188.0,477.5 L1186.0,472.7 L1184.0,467.9 L1182.0,463.1 L1180.0,458.3 L1178.0,453.6 L1176.0,448.9 L1174.0,444.2 L1172.0,439.6 L1170.0,435.0 L1168.0,430.4 L1166.0,425.8 L1164.0,421.3 L1162.0,416.9 L1160.0,412.5 L1158.0,408.1 L1156.0,403.8 L1154.0,399.6 L1152.0,395.4 L1150.0,391.2 L1148.0,387.2 L1146.0,383.1 L1144.0,379.2 L1142.0,375.3 L1140.0,371.5 L1138.0,367.8 L1136.0,364.1 L1134.0,360.5 L1132.0,357.0 L1130.0,353.5 L1128.0,350.2 L1126.0,346.9 L1124.0,343.7 L1122.0,340.5 L1120.0,337.5 L1118.0,334.5 L1116.0,331.6 L1114.0,328.9 L1112.0,326.2 L1110.0,323.6 L1108.0,321.0 L1106.0,318.6 L1104.0,316.3 L1102.0,314.1 L1100.0,312.1 L1098.0,310.1 L1096.0,308.3 L1094.0,306.5 L1092.0,304.9 L1090.0,303.5 L1088.0,302.2 L1086.0,301.0 L1084.0,300.0 L1082.0,299.1 L1080.0,298.4 L1078.0,297.8 L1076.0,297.3 L1074.0,297.0 L1072.0,296.8 L1070.0,296.8 L1068.0,296.9 L1066.0,297.1 L1064.0,297.5 L1062.0,298.0 L1060.0,298.7 L1058.0,299.4 L1056.0,300.2 L1054.0,301.2 L1052.0,302.2 L1050.0,303.3 L1048.0,304.5 L1046.0,305.7 L1044.0,307.1 L1042.0,308.5 L1040.0,310.1 L1038.0,311.8 L1036.0,313.6 L1034.0,315.5 L1032.0,317.6 L1030.0,319.9 L1028.0,322.3 L1026.0,324.9 L1024.0,327.6 L1022.0,330.5 L1020.0,333.5 L1018.0,336.6 L1016.0,339.9 L1014.0,343.3 L1012.0,346.7 L1010.0,350.3 L1008.0,354.0 L1006.0,357.7 L1004.0,361.5 L1002.0,365.4 L1000.0,369.3 L998.0,373.3 L996.0,377.3 L994.0,381.3 L992.0,385.4 L990.0,389.5 L988.0,393.6 L986.0,397.7 L984.0,401.8 L982.0,405.9 L980.0,410.1 L978.0,414.2 L976.0,418.3 L974.0,422.3 L972.0,426.4 L970.0,430.4 L968.0,434.5 L966.0,438.4 L964.0,442.4 L962.0,446.3 L960.0,450.2 L958.0,453.4 L956.0,456.7 L954.0,459.9 L952.0,463.0 L950.0,466.0 L948.0,469.0 L946.0,471.8 L944.0,474.5 L942.0,477.1 L940.0,479.5 L938.0,481.7 L936.0,483.7 L934.0,485.5 L932.0,487.1 L930.0,488.5 L928.0,489.6 L926.0,490.6 L924.0,491.3 L922.0,491.9 L920.0,492.3 L918.0,492.5 L916.0,492.5 L914.0,492.4 L912.0,492.1 L910.0,491.7 L908.0,491.1 L906.0,490.4 L904.0,489.6 L902.0,488.6 L900.0,487.4 L898.0,486.1 L896.0,484.6 L894.0,483.0 L892.0,481.1 L890.0,479.1 L888.0,476.8 L886.0,474.4 L884.0,471.8 L882.0,469.1 L880.0,466.2 L878.0,463.0 L876.0,459.7 L874.0,456.3 L872.0,452.9 L870.0,449.4 L868.0,445.9 L866.0,442.3 L864.0,438.7 L862.0,435.2 L860.0,431.6 L858.0,428.0 L856.0,424.4 L854.0,420.8 L852.0,417.2 L850.0,413.5 L848.0,409.9 L846.0,406.2 L844.0,402.5 L842.0,398.8 L840.0,395.1 L838.0,391.4 L836.0,387.7 L834.0,384.0 L832.0,380.3 L830.0,376.7 L828.0,373.3 L826.0,369.9 L824.0,366.7 L822.0,363.7 L820.0,360.8 L818.0,358.2 L816.0,355.8 L814.0,353.6 L812.0,351.6 L810.0,349.8 L808.0,348.3 L806.0,347.0 L804.0,346.0 L802.0,345.2 L800.0,344.7 L798.0,344.4 L796.0,344.4 L794.0,344.7 L792.0,345.2 L790.0,345.9 L788.0,347.0 L786.0,348.2 L784.0,349.7 L782.0,351.5 L780.0,353.5 L778.0,355.4 L776.0,357.6 L774.0,360.1 L772.0,362.8 L770.0,365.9 L768.0,369.2 L766.0,372.9 L764.0,376.9 L762.0,381.3 L760.0,386.0 L758.0,391.2 L756.0,396.6 L754.0,402.3 L752.0,408.4 L750.0,414.6 L748.0,421.1 L746.0,427.8 L744.0,434.6 L742.0,441.6 L740.0,448.6 Z" fill="#000" stroke="none"/>
<path d="M357.0,967.5 L358.5,967.5 L360.0,967.5 L361.5,967.5 L363.0,967.5 L364.5,967.5 L366.0,967.5 L367.5,967.5 L369.0,967.5 L370.5,967.5 L372.0,967.5 L373.5,967.5 L375.0,967.5 L376.5,967.5 L378.0,967.5 L379.5,967.5 L381.0,967.5 L382.5,967.5 L384.0,967.5 L385.5,967.5 L387.0,967.5 L388.5,967.5 L390.0,967.5 L391.5,967.5 L393.0,967.5 L394.5,967.5 L396.0,967.5 L397.5,967.5 L399.0,967.5 L400.5,967.5 L402.0,967.5 L403.5,967.5 L405.0,967.5 L406.5,967.5 L408.0,967.5 L409.5,967.5 L411.0,967.5 L412.5,967.5 L414.0,967.5 L415.5,967.5 L417.0,967.5 L418.5,967.5 L420.0,967.5 L421.5,967.5 L423.0,967.5 L424.5,967.5 L426.0,967.5 L427.5,967.5 L429.0,967.5 L430.5,967.5 L432.0,967.5 L433.5,967.5 L435.0,967.5 L436.5,967.5 L438.0,967.5 L439.5,967.5 L441.0,967.5 L442.5,967.5 L444.0,967.5 L445.5,967.5 L447.0,967.5 L448.5,967.5 L450.0,967.5 L451.5,967.5 L453.0,967.5 L454.5,967.5 L456.0,967.5 L457.5,967.5 L459.0,967.5 L460.5,967.5 L462.0,967.5 L463.5,967.5 L465.0,967.5 L466.5,967.5 L468.0,967.5 L469.5,967.5 L471.0,967.5 L472.5,967.5 L474.0,967.5 L475.5,967.4 L477.0,967.4 L478.5,967.4 L480.0,967.4 L481.5,967.4 L483.0,967.4 L484.5,967.4 L486.0,967.4 L487.5,967.4 L489.0,967.4 L490.5,967.4 L492.0,967.4 L493.5,967.4 L495.0,967.4 L496.5,967.4 L498.0,967.4 L499.5,967.4 L501.0,967.4 L502.5,967.4 L504.0,967.4 L505.5,967.4 L507.0,967.4 L508.5,967.3 L510.0,967.3 L511.5,967.3 L513.0,967.3 L514.5,967.3 L516.0,967.3 L517.5,967.3 L519.0,967.3 L520.5,967.3 L522.0,967.3 L523.5,967.3 L525.0,967.3 L526.5,967.3 L528.0,967.2 L529.5,967.2 L531.0,967.2 L532.5,967.2 L534.0,967.1 L535.5,967.1 L537.0,967.0 L538.5,966.9 L540.0,966.9 L541.5,966.8 L543.0,966.7 L544.5,966.5 L546.0,966.4 L547.5,966.3 L549.0,966.1 L550.5,965.9 L552.0,965.7 L553.5,965.5 L555.0,965.3 L556.5,965.0 L558.0,964.7 L559.5,964.4 L561.0,964.1 L562.5,963.8 L564.0,963.4 L565.5,963.1 L567.0,962.7 L568.5,962.2 L570.0,961.8 L571.5,961.3 L573.0,960.7 L574.5,960.2 L576.0,959.6 L577.5,959.0 L579.0,958.3 L580.5,957.6 L582.0,956.9 L583.5,956.1 L585.0,955.3 L586.5,954.4 L588.0,953.5 L589.5,952.5 L591.0,951.5 L592.5,950.5 L594.0,949.3 L595.5,948.1 L597.0,946.9 L598.5,945.5 L600.0,944.0 L601.5,942.4 L603.0,940.7 L604.5,939.0 L606.0,937.1 L607.5,935.1 L609.0,933.1 L610.5,931.0 L612.0,928.8 L613.5,926.5 L615.0,924.1 L616.5,921.7 L618.0,919.1 L619.5,916.6 L621.0,913.9 L622.5,911.2 L624.0,908.4 L625.5,905.5 L627.0,902.6 L628.5,899.7 L630.0,896.7 L631.5,893.6 L633.0,890.5 L634.5,887.4 L636.0,884.2 L637.5,881.0 L639.0,877.9 L640.5,874.7 L642.0,871.4 L643.5,868.1 L645.0,864.7 L646.5,861.2 L648.0,857.5 L649.5,853.6 L651.0,849.5 L652.5,845.1 L654.0,840.4 L655.5,835.4 L657.0,830.0 L658.5,824.2 L660.0,818.1 L661.5,811.7 L663.0,805.0 L664.5,798.0 L666.0,790.9 L667.5,783.7 L669.0,776.3 L670.5,768.9 L672.0,761.5 L673.5,754.1 L675.0,746.8 L676.5,739.6 L678.0,732.5 L679.5,725.6 L681.0,718.8 L682.5,712.0 L684.0,705.4 L685.5,698.8 L687.0,692.2 L688.5,685.7 L690.0,679.2 L691.5,672.6 L693.0,666.0 L694.5,659.4 L696.0,652.7 L697.5,645.9 L699.0,638.9 L700.5,631.9 L702.0,624.7 L703.5,617.4 L705.0,610.0 L706.5,602.4 L708.0,594.8 L709.5,587.2 L711.0,579.5 L712.5,571.8 L714.0,564.1 L715.5,556.4 L717.0,548.7 L718.5,541.1 L720.0,533.7 L721.5,526.3 L723.0,519.0 L724.5,511.9 L726.0,504.9 L727.5,498.0 L729.0,491.3 L730.5,484.6 L732.0,478.1 L733.5,471.7 L735.0,465.4 L736.5,459.1 L738.0,452.9 L739.5,446.8 L741.0,440.8 L742.5,434.8 L744.0,428.9 L745.5,423.0 L747.0,417.3 L748.5,411.6 L750.0,406.1 L751.5,400.6 L753.0,395.3 L754.5,390.2 L756.0,385.2 L757.5,380.4 L759.0,375.7 L760.5,371.3 L762.0,367.0 L763.5,363.0 L765.0,359.2 L766.5,355.5 L768.0,352.1 L769.5,348.8 L771.0,345.8 L772.5,342.9 L774.0,340.1 L775.5,337.5 L777.0,335.1 L778.5,332.9 L780.0,330.7 L781.5,328.7 L783.0,326.9 L784.5,325.2 L786.0,323.6 L787.5,322.2 L789.0,320.9 L790.5,319.7 L792.0,318.7 L793.5,317.9 L795.0,317.1 L796.5,316.6 L798.0,316.1 L799.5,315.9 L801.0,315.7 L802.5,315.7 L804.0,315.9 L805.5,316.2 L807.0,316.6 L808.5,317.2 L810.0,317.9 L811.5,318.7 L813.0,319.7 L814.5,320.8 L816.0,322.0 L817.5,323.4 L819.0,324.8 L820.5,326.4 L822.0,328.1 L823.5,329.9 L825.0,331.8 L826.5,333.8 L828.0,335.9 L829.5,338.0 L831.0,340.2 L832.5,342.4 L834.0,344.7 L835.5,346.9 L837.0,349.2 L838.5,351.5 L840.0,353.8 L841.5,356.1 L843.0,358.3 L844.5,360.6 L846.0,362.9 L847.5,365.1 L849.0,367.3 L850.5,369.6 L852.0,371.8 L853.5,374.0 L855.0,376.2 L856.5,378.4 L858.0,380.6 L859.5,382.8 L861.0,385.0 L862.5,387.2 L864.0,389.4 L865.5,391.5 L867.0,393.7 L868.5,395.9 L870.0,398.0 L871.5,400.1 L873.0,402.2 L874.5,404.3 L876.0,406.3 L877.5,408.3 L879.0,410.2 L880.5,412.0 L882.0,413.8 L883.5,415.5 L885.0,417.1 L886.5,418.6 L888.0,420.0 L889.5,421.3 L891.0,422.5 L892.5,423.5 L894.0,424.5 L895.5,425.4 L897.0,426.1 L898.5,426.8 L900.0,427.4 L901.5,427.9 L903.0,428.3 L904.5,428.6 L906.0,428.8 L907.5,428.9 L909.0,429.0 L910.5,429.0 L912.0,428.9 L913.5,428.7 L915.0,428.5 L916.5,428.1 L918.0,427.7 L919.5,427.1 L921.0,426.5 L922.5,425.8 L924.0,424.9 L925.5,424.0 L927.0,422.9 L928.5,421.7 L930.0,420.4 L931.5,419.0 L933.0,417.5 L934.5,415.9 L936.0,414.1 L937.5,412.2 L939.0,410.2 L940.5,408.1 L942.0,405.9 L943.5,403.6 L945.0,401.2 L946.5,398.7 L948.0,396.2 L949.5,393.6 L951.0,390.9 L952.5,388.2 L954.0,385.4 L955.5,382.7 L957.0,379.9 L958.5,377.0 L960.0,374.2 L961.5,371.3 L963.0,368.3 L964.5,365.4 L966.0,362.4 L967.5,359.5 L969.0,356.5 L970.5,353.4 L972.0,350.4 L973.5,347.4 L975.0,344.3 L976.5,341.2 L978.0,338.2 L979.5,335.1 L981.0,332.0 L982.5,328.9 L984.0,325.8 L985.5,322.7 L987.0,319.7 L988.5,316.6 L990.0,313.5 L991.5,310.4 L993.0,307.4 L994.5,304.3 L996.0,301.3 L997.5,298.3 L999.0,295.3 L1000.5,292.3 L1002.0,289.4 L1003.5,286.5 L1005.0,283.6 L1006.5,280.8 L1008.0,278.0 L1009.5,275.2 L1011.0,272.5 L1012.5,269.9 L1014.0,267.3 L1015.5,264.7 L1017.0,262.3 L1018.5,259.9 L1020.0,257.5 L1021.5,255.2 L1023.0,253.0 L1024.5,250.9 L1026.0,248.9 L1027.5,247.0 L1029.0,245.1 L1030.5,243.3 L1032.0,241.6 L1033.5,240.1 L1035.0,238.6 L1036.5,237.1 L1038.0,235.8 L1039.5,234.5 L1041.0,233.3 L1042.5,232.2 L1044.0,231.1 L1045.5,230.1 L1047.0,229.1 L1048.5,228.2 L1050.0,227.3 L1051.5,226.5 L1053.0,225.7 L1054.5,224.9 L1056.0,224.2 L1057.5,223.6 L1059.0,223.0 L1060.5,222.5 L1062.0,222.0 L1063.5,221.7 L1065.0,221.3 L1066.5,221.1 L1068.0,220.9 L1069.5,220.8 L1071.0,220.8 L1072.5,220.8 L1074.0,221.0 L1075.5,221.2 L1077.0,221.5 L1078.5,221.9 L1080.0,222.4 L1081.5,222.9 L1083.0,223.5 L1084.5,224.2 L1086.0,225.0 L1087.5,225.9 L1089.0,226.8 L1090.5,227.8 L1092.0,228.9 L1093.5,230.1 L1095.0,231.4 L1096.5,232.7 L1098.0,234.1 L1099.5,235.6 L1101.0,237.1 L1102.5,238.7 L1104.0,240.3 L1105.5,242.1 L1107.0,243.8 L1108.5,245.7 L1110.0,247.6 L1111.5,249.5 L1113.0,251.5 L1114.5,253.5 L1116.0,255.6 L1117.5,257.8 L1119.0,260.0 L1120.5,262.2 L1122.0,264.5 L1123.5,266.9 L1125.0,269.3 L1126.5,271.7 L1128.0,274.2 L1129.5,276.7 L1131.0,279.2 L1132.5,281.9 L1134.0,284.5 L1135.5,287.2 L1137.0,289.9 L1138.5,292.7 L1140.0,295.5 L1141.5,298.4 L1143.0,301.2 L1144.5,304.2 L1146.0,307.1 L1147.5,310.1 L1149.0,313.2 L1150.5,316.3 L1152.0,319.4 L1153.5,322.5 L1155.0,325.7 L1156.5,328.9 L1158.0,332.1 L1159.5,335.4 L1161.0,338.7 L1162.5,342.0 L1164.0,345.3 L1165.5,348.7 L1167.0,352.1 L1168.5,355.5 L1170.0,359.0 L1171.5,362.4 L1173.0,365.9 L1174.5,369.4 L1176.0,372.9 L1177.5,376.4 L1179.0,380.0 L1180.5,383.5 L1182.0,387.1 L1183.5,390.7 L1185.0,394.3 L1186.5,397.9 L1188.0,401.5 L1189.5,405.1 L1191.0,408.7 L1192.5,412.3 L1194.0,416.0 L1195.5,419.6 L1197.0,423.2 L1198.5,426.9 L1200.0,430.5 L1201.5,434.2 L1203.0,437.8 L1204.5,441.4 L1206.0,445.0 L1207.5,448.7 L1209.0,452.3 L1210.5,455.9 L1212.0,459.5 L1213.5,463.1 L1215.0,466.7 L1216.5,470.3 L1218.0,473.9 L1219.5,477.4 L1221.0,481.0 L1222.5,484.5 L1224.0,488.1 L1225.5,491.6 L1227.0,495.1 L1228.5,498.6 L1230.0,502.1 L1231.5,505.6 L1233.0,509.1 L1234.5,512.5 L1236.0,515.9 L1237.5,519.3 L1239.0,522.7 L1240.5,526.1 L1242.0,529.5 L1243.5,532.9 L1245.0,536.2 L1246.5,539.6 L1248.0,542.9 L1249.5,546.2 L1251.0,549.5 L1252.5,552.8 L1254.0,556.1 L1255.5,559.4 L1257.0,562.6 L1258.5,565.9 L1260.0,569.2 L1261.5,572.4 L1263.0,575.6 L1264.5,578.9 L1266.0,582.1 L1267.5,585.3 L1269.0,588.6 L1270.5,591.8 L1272.0,595.0 L1273.5,598.2 L1275.0,601.4 L1276.5,604.6 L1278.0,607.8 L1279.5,611.0 L1281.0,614.2 L1282.5,617.3 L1284.0,620.5 L1285.5,623.6 L1287.0,626.8 L1288.5,629.9 L1290.0,633.0 L1291.5,636.0 L1293.0,639.1 L1294.5,642.1 L1296.0,645.2 L1297.5,648.2 L1299.0,651.2 L1300.5,654.1 L1302.0,657.1 L1303.5,660.0 L1305.0,662.9 L1306.5,665.8 L1308.0,668.6 L1309.5,671.4 L1311.0,674.2 L1312.5,677.0 L1314.0,679.7 L1315.5,682.5 L1317.0,685.2 L1318.5,687.8 L1320.0,690.5 L1321.5,693.1 L1323.0,695.7 L1324.5,698.3 L1326.0,700.8 L1327.5,703.4 L1329.0,705.9 L1330.5,708.4 L1332.0,710.8 L1333.5,713.2 L1335.0,715.7 L1336.5,718.0 L1338.0,720.4 L1339.5,722.8 L1341.0,725.1 L1342.5,727.4 L1344.0,729.7 L1345.5,732.0 L1347.0,734.3 L1348.5,736.5 L1350.0,738.8 L1351.5,741.0 L1353.0,743.2 L1354.5,745.4 L1356.0,747.6 L1357.5,749.8 L1359.0,752.0 L1360.5,754.2 L1362.0,756.3 L1363.5,758.5 L1365.0,760.6 L1366.5,762.7 L1368.0,764.8 L1369.5,766.9 L1371.0,768.9 L1372.5,771.0 L1374.0,773.0 L1375.5,775.0 L1377.0,776.9 L1378.5,778.9 L1380.0,780.8 L1381.5,782.7 L1383.0,784.5 L1384.5,786.4 L1386.0,788.2 L1387.5,790.1 L1389.0,791.9 L1390.5,793.6 L1392.0,795.4 L1393.5,797.2 L1395.0,798.9 L1396.5,800.6 L1398.0,802.4 L1399.5,804.1 L1401.0,805.8 L1402.5,807.5 L1404.0,809.1 L1405.5,810.8 L1407.0,812.5 L1408.5,814.1 L1410.0,815.7 L1411.5,817.4 L1413.0,819.0 L1414.5,820.6 L1416.0,822.1 L1417.5,823.7 L1419.0,825.2 L1420.5,826.8 L1422.0,828.3 L1423.5,829.8 L1425.0,831.2 L1426.5,832.7 L1428.0,834.1 L1429.5,835.5 L1431.0,836.9 L1432.5,838.3 L1434.0,839.6 L1435.5,841.0 L1437.0,842.3 L1438.5,843.6 L1440.0,844.9 L1441.5,846.1 L1443.0,847.4 L1444.5,848.7 L1446.0,849.9 L1447.5,851.1 L1449.0,852.4 L1450.5,853.6 L1452.0,854.8 L1453.5,856.0 L1455.0,857.2 L1456.5,858.4 L1458.0,859.6 L1459.5,860.8 L1461.0,861.9 L1462.5,863.1 L1464.0,864.3 L1465.5,865.4 L1467.0,866.5 L1468.5,867.7 L1470.0,868.8 L1471.5,869.9 L1473.0,871.0 L1474.5,872.1 L1476.0,873.1 L1477.5,874.2 L1479.0,875.3 L1480.5,876.3 L1482.0,877.3 L1483.5,878.4 L1485.0,879.4 L1486.5,880.4 L1488.0,881.4 L1489.5,882.3 L1491.0,883.3 L1492.5,884.2 L1494.0,885.2 L1495.5,886.1 L1497.0,887.0 L1498.5,887.9 L1500.0,888.8 L1501.5,889.7 L1503.0,890.5 L1504.5,891.4 L1506.0,892.2 L1507.5,893.0 L1509.0,893.9 L1510.5,894.7 L1512.0,895.5 L1513.5,896.2 L1515.0,897.0 L1516.5,897.8 L1518.0,898.6 L1519.5,899.3 L1521.0,900.0 L1522.5,900.8 L1524.0,901.5 L1525.5,902.2 L1527.0,903.0 L1528.5,903.7 L1530.0,904.4 L1531.5,905.1 L1533.0,905.8 L1534.5,906.5 L1536.0,907.1 L1537.5,907.8 L1539.0,908.5 L1540.5,909.2 L1542.0,909.8 L1543.5,910.5 L1545.0,911.1 L1546.5,911.7 L1548.0,912.4 L1549.5,913.0 L1551.0,913.6 L1552.5,914.2 L1554.0,914.8 L1555.5,915.4 L1557.0,916.0 L1558.5,916.6 L1560.0,917.2 L1561.5,917.7 L1563.0,918.3 L1564.5,918.8 L1566.0,919.4 L1567.5,919.9 L1569.0,920.5 L1570.5,921.0 L1572.0,921.6 L1573.5,922.1 L1575.0,922.6 L1576.5,923.1 L1578.0,923.6 L1579.5,924.1 L1581.0,924.6 L1582.5,925.1 L1584.0,925.6 L1585.5,926.1 L1587.0,926.6 L1588.5,927.1 L1590.0,927.6 L1591.5,928.0 L1593.0,928.5 L1594.5,929.0 L1596.0,929.4 L1597.5,929.9 L1599.0,930.3 L1600.5,930.7 L1602.0,931.2 L1603.5,931.6 L1605.0,932.0 L1606.5,932.5 L1608.0,932.9 L1609.5,933.3 L1611.0,933.7 L1612.5,934.1 L1614.0,934.5 L1615.5,934.9 L1617.0,935.3 L1618.5,935.7 L1620.0,936.0 L1621.5,936.4 L1623.0,936.8 L1624.5,937.2 L1626.0,937.5 L1627.5,937.9 L1629.0,938.3 L1630.5,938.6 L1632.0,939.0 L1633.5,939.4 L1635.0,939.7 L1636.5,940.1 L1638.0,940.4 L1639.5,940.7 L1641.0,941.1 L1642.5,941.4 L1644.0,941.7 L1645.5,942.1 L1647.0,942.4 L1648.5,942.7 L1650.0,943.0 L1651.5,943.3 L1653.0,943.6 L1654.5,943.9 L1656.0,944.2 L1657.5,944.5 L1659.0,944.7 L1660.5,945.0 L1662.0,945.3 L1663.5,945.6 L1665.0,945.8 L1666.5,946.1 L1668.0,946.3 L1669.5,946.6 L1671.0,946.8 L1672.5,947.1 L1674.0,947.3 L1675.5,947.6 L1677.0,947.8 L1678.5,948.1 L1680.0,948.3 L1681.5,948.5 L1683.0,948.8 L1684.5,949.0 L1686.0,949.2 L1687.5,949.4 L1689.0,949.7 L1690.5,949.9 L1692.0,950.1 L1693.5,950.3 L1695.0,950.5 L1696.5,950.7 L1698.0,950.9 L1699.5,951.1 L1701.0,951.3 L1702.5,951.5 L1704.0,951.7 L1705.5,951.9 L1707.0,952.1 L1708.5,952.3 L1710.0,952.5 L1711.5,952.7 L1713.0,952.8 L1714.5,953.0 L1716.0,953.2 L1717.5,953.4 L1719.0,953.5 L1720.5,953.7 L1722.0,953.8 L1723.5,954.0 L1725.0,954.1 L1726.5,954.3 L1728.0,954.4 L1729.5,954.6 L1731.0,954.7 L1732.5,954.8 L1734.0,955.0 L1735.5,955.1 L1737.0,955.2 L1738.5,955.3 L1740.0,955.4 L1741.5,955.5 L1743.0,955.7 L1744.5,955.8 L1746.0,955.9 L1747.5,955.9 L1749.0,956.0 L1750.5,956.1 L1752.0,956.2 L1753.5,956.3 L1755.0,956.4 L1756.5,956.5 L1758.0,956.5 L1759.5,956.6 L1761.0,956.7 L1762.5,956.8 L1764.0,956.8 L1765.5,956.9 L1767.0,957.0 L1768.5,957.0 L1770.0,957.1 L1771.5,957.2 L1773.0,957.2 L1774.5,957.3 L1776.0,957.3 L1777.5,957.4 L1779.0,957.5 L1779.4,957.5" fill="none" stroke="#fff" stroke-width="9.0" stroke-linejoin="round" stroke-linecap="butt"/>
<line x1="266.5" y1="967.4" x2="640.0" y2="967.4" stroke="#3a3a3a" stroke-width="2.6"/>
<text fill="#000" stroke="#000" stroke-linejoin="round"><tspan x="354.3" y="207.8" font-family="'Liberation Sans', sans-serif" font-style="italic" font-size="82.1" stroke-width="0.8" textLength="43.6" lengthAdjust="spacingAndGlyphs">S</tspan><tspan x="396.0" y="220.2" font-family="'Liberation Sans', sans-serif" font-style="italic" font-size="106.3" stroke="#fff" stroke-width="1.3" textLength="34.0" lengthAdjust="spacingAndGlyphs">/</tspan><tspan x="431.7" y="208.4" font-family="'Liberation Sans', sans-serif" font-style="italic" font-size="80.7" stroke-width="0.8" textLength="55.8" lengthAdjust="spacingAndGlyphs">N</tspan><tspan x="486.1" y="210.0" font-family="'Liberation Sans', sans-serif" font-style="italic" font-size="80.7" stroke-width="0.8" textLength="45.7" lengthAdjust="spacingAndGlyphs">=</tspan><tspan x="531.3" y="208.4" font-family="'Liberation Sans', sans-serif" font-style="italic" font-size="81.6" stroke-width="0.8" textLength="42.1" lengthAdjust="spacingAndGlyphs">2</tspan><tspan x="574.6" y="207.9" font-family="'Liberation Sans', sans-serif" font-style="italic" font-size="81.4" stroke-width="0.8" textLength="46.6" lengthAdjust="spacingAndGlyphs">0</tspan></text>
<text fill="#000" stroke="#000" stroke-linejoin="round"><tspan x="110.8" y="90.7" font-family="'Liberation Sans', sans-serif" font-style="normal" font-size="81.4" stroke-width="0.8" textLength="112.3" lengthAdjust="spacingAndGlyphs">0.6</tspan></text>
<text fill="#000" stroke="#000" stroke-linejoin="round"><tspan x="169.7" y="986.8" font-family="'Liberation Sans', sans-serif" font-style="normal" font-size="81.6" stroke-width="0.8" textLength="46.3" lengthAdjust="spacingAndGlyphs">0</tspan></text>
<text fill="#000" stroke="#000" stroke-linejoin="round"><tspan x="244.3" y="1228.2" font-family="'Liberation Sans', sans-serif" font-style="normal" font-size="81.7" stroke-width="0.8" textLength="43.0" lengthAdjust="spacingAndGlyphs">1</tspan></text>
<text fill="#000" stroke="#000" stroke-linejoin="round"><tspan x="523.5" y="1228.2" font-family="'Liberation Sans', sans-serif" font-style="normal" font-size="81.7" stroke-width="0.8" textLength="43.6" lengthAdjust="spacingAndGlyphs">1</tspan><tspan x="566.3" y="1228.5" font-family="'Liberation Sans', sans-serif" font-style="normal" font-size="82.7" stroke-width="0.8" textLength="47.0" lengthAdjust="spacingAndGlyphs">0</tspan></text>
<text fill="#000" stroke="#000" stroke-linejoin="round"><tspan x="806.1" y="1228.2" font-family="'Liberation Sans', sans-serif" font-style="normal" font-size="81.7" stroke-width="0.8" textLength="44.2" lengthAdjust="spacingAndGlyphs">1</tspan><tspan x="849.0" y="1228.5" font-family="'Liberation Sans', sans-serif" font-style="normal" font-size="82.9" stroke-width="0.8" textLength="90.5" lengthAdjust="spacingAndGlyphs">00</tspan></text>
<text fill="#000" stroke="#000" stroke-linejoin="round"><tspan x="1129.3" y="1228.2" font-family="'Liberation Sans', sans-serif" font-style="normal" font-size="81.7" stroke-width="0.8" textLength="44.0" lengthAdjust="spacingAndGlyphs">1</tspan><tspan x="1174.8" y="1228.8" font-family="'Liberation Sans', sans-serif" font-style="normal" font-size="83.4" stroke-width="0.8" textLength="36.7" lengthAdjust="spacingAndGlyphs">k</tspan></text>
<text fill="#000" stroke="#000" stroke-linejoin="round"><tspan x="1411.6" y="1228.2" font-family="'Liberation Sans', sans-serif" font-style="normal" font-size="81.7" stroke-width="0.8" textLength="44.4" lengthAdjust="spacingAndGlyphs">1</tspan><tspan x="1455.9" y="1228.0" font-family="'Liberation Sans', sans-serif" font-style="normal" font-size="82.6" stroke-width="0.8" textLength="83.5" lengthAdjust="spacingAndGlyphs">0k</tspan></text>
<text fill="#000" stroke="#000" stroke-linejoin="round"><tspan x="1716.0" y="1228.2" font-family="'Liberation Sans', sans-serif" font-style="normal" font-size="81.7" stroke-width="0.8" textLength="44.0" lengthAdjust="spacingAndGlyphs">1</tspan><tspan x="1759.2" y="1227.7" font-family="'Liberation Sans', sans-serif" font-style="normal" font-size="82.3" stroke-width="0.8" textLength="126.7" lengthAdjust="spacingAndGlyphs">00k</tspan></text>
<text fill="#000" stroke="#000" stroke-linejoin="round"><tspan x="819.4" y="1350.0" font-family="'Liberation Sans', sans-serif" font-style="normal" font-size="81.0" stroke-width="0.8" textLength="159.4" lengthAdjust="spacingAndGlyphs">Rate</tspan> <tspan x="997.7" y="1352.4" font-family="'Liberation Sans', sans-serif" font-style="normal" font-size="79.8" stroke-width="0.5" textLength="51.9" lengthAdjust="spacingAndGlyphs">ρ</tspan> <tspan x="1068.0" y="1352.3" font-family="'Liberation Sans', sans-serif" font-style="normal" font-size="79.6" stroke-width="0.5" textLength="54.0" lengthAdjust="spacingAndGlyphs">σ</tspan><tspan x="1121.7" y="1367.5" font-family="'Liberation Sans', sans-serif" font-style="normal" font-size="55.1" stroke-width="1.6" textLength="25.9" lengthAdjust="spacingAndGlyphs">x</tspan> <tspan x="1190.2" y="1346.9" font-family="'Liberation Serif', serif" font-style="normal" font-size="81.7" stroke-width="3.2" textLength="19.1" lengthAdjust="spacingAndGlyphs">(</tspan><tspan x="1213.7" y="1350.6" font-family="'Liberation Serif', serif" font-style="italic" font-size="89.6" stroke-width="0.6" textLength="40.0" lengthAdjust="spacingAndGlyphs">s</tspan><tspan x="1257.9" y="1319.9" font-family="'Liberation Serif', serif" font-style="normal" font-size="63.3" stroke-width="0.8" textLength="46.5" lengthAdjust="spacingAndGlyphs">−</tspan><tspan x="1302.6" y="1318.2" font-family="'Liberation Serif', serif" font-style="normal" font-size="63.3" stroke-width="1.2" textLength="39.8" lengthAdjust="spacingAndGlyphs">1</tspan><tspan x="1347.5" y="1346.3" font-family="'Liberation Serif', serif" font-style="normal" font-size="83.4" stroke-width="3.2" textLength="20.1" lengthAdjust="spacingAndGlyphs">)</tspan></text>
<text fill="#000" stroke="#000" stroke-linejoin="round" transform="rotate(-90)"><tspan x="-731.7" y="93.8" font-family="'Liberation Serif', serif" font-style="italic" font-size="89.5" stroke-width="1.5" textLength="46.7" lengthAdjust="spacingAndGlyphs">S</tspan><tspan x="-682.2" y="93.3" font-family="'Liberation Serif', serif" font-style="italic" font-size="88.0" stroke-width="1.5" textLength="43.9" lengthAdjust="spacingAndGlyphs">L</tspan><tspan x="-634.9" y="93.8" font-family="'Liberation Serif', serif" font-style="italic" font-size="87.7" stroke-width="1.5" textLength="46.1" lengthAdjust="spacingAndGlyphs">A</tspan><tspan x="-580.7" y="95.2" font-family="'Liberation Serif', serif" font-style="italic" font-size="90.1" stroke-width="1.5" textLength="48.4" lengthAdjust="spacingAndGlyphs">P</tspan><tspan x="-519.0" y="111.9" font-family="'Liberation Serif', serif" font-style="italic" font-size="118.8" stroke-width="3.4" textLength="24.8" lengthAdjust="spacingAndGlyphs">/</tspan><tspan x="-483.9" y="95.6" font-family="'Liberation Serif', serif" font-style="italic" font-size="84.1" stroke-width="0.8" textLength="48.8" lengthAdjust="spacingAndGlyphs">σ</tspan><tspan x="-433.0" y="110.6" font-family="'Liberation Serif', serif" font-style="italic" font-size="68.9" stroke-width="1.0" textLength="34.1" lengthAdjust="spacingAndGlyphs">y</tspan></text>
</g>
</svg></body></html>
